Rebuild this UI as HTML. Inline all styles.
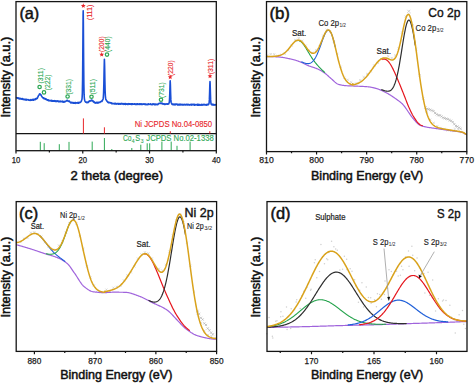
<!DOCTYPE html>
<html><head><meta charset="utf-8"><style>
html,body{margin:0;padding:0;background:#fff;width:475px;height:384px;overflow:hidden}
svg{display:block;font-family:"Liberation Sans", sans-serif}
</style></head><body>
<svg width="475" height="384" viewBox="0 0 475 384" font-family='"Liberation Sans", sans-serif'>
<rect width="475" height="384" fill="#fff"/>
<path d="M16.6,97.63 L16.85,97.96 L17.1,97.86 L17.35,98.12 L17.6,98.19 L17.85,97.74 L18.1,97.75 L18.35,98.54 L18.6,98.07 L18.85,98.1 L19.1,98.84 L19.35,98.42 L19.6,98.8 L19.85,98.52 L20.1,98.72 L20.35,98.33 L20.6,98.81 L20.85,99.07 L21.1,98.81 L21.35,99.05 L21.6,99.04 L21.85,98.53 L22.1,99.2 L22.35,99.1 L22.6,98.88 L22.85,98.68 L23.1,99.48 L23.35,99.16 L23.6,99.43 L23.85,99.61 L24.1,99.5 L24.35,99.73 L24.6,99.29 L24.85,99.69 L25.1,99.41 L25.35,99.88 L25.6,99.87 L25.85,99.2 L26.1,99.26 L26.35,99.37 L26.6,100.07 L26.85,99.62 L27.1,99.82 L27.35,99.55 L27.6,99.76 L27.85,99.68 L28.1,99.67 L28.35,99.9 L28.6,99.92 L28.85,100.22 L29.1,100.04 L29.35,100.27 L29.6,100.22 L29.85,100.35 L30.1,100.07 L30.35,99.62 L30.6,100.25 L30.85,100.34 L31.1,100.28 L31.35,99.98 L31.6,100.1 L31.85,99.64 L32.1,100.18 L32.35,99.93 L32.6,99.65 L32.85,99.42 L33.1,100.11 L33.35,100.2 L33.6,99.35 L33.85,99.94 L34.1,99.54 L34.35,99.25 L34.6,99.32 L34.85,99.67 L35.1,99.68 L35.35,98.84 L35.6,99.24 L35.85,98.6 L36.1,99.07 L36.35,98.55 L36.6,98.86 L36.85,98.74 L37.1,98.06 L37.35,98.23 L37.6,97.29 L37.85,96.72 L38.1,96.8 L38.35,95.86 L38.6,95.55 L38.85,95.28 L39.1,95.02 L39.35,94.22 L39.6,93.82 L39.85,94.39 L40.1,93.87 L40.35,94.57 L40.6,94.76 L40.85,94.64 L41.1,95.12 L41.35,95.6 L41.6,96.13 L41.85,96.48 L42.1,96.81 L42.35,97.18 L42.6,97.74 L42.85,97.59 L43.1,97.73 L43.35,98.18 L43.6,97.91 L43.85,98.11 L44.1,98.86 L44.35,98.58 L44.6,98.73 L44.85,98.37 L45.1,98.86 L45.35,99.14 L45.6,98.76 L45.85,99.42 L46.1,99.56 L46.35,99.17 L46.6,99.8 L46.85,99.77 L47.1,100.07 L47.35,99.87 L47.6,100.28 L47.85,100.4 L48.1,99.83 L48.35,99.93 L48.6,100.55 L48.85,100.86 L49.1,100.27 L49.35,100.5 L49.6,100.66 L49.85,100.45 L50.1,100.52 L50.35,100.51 L50.6,100.59 L50.85,100.82 L51.1,100.58 L51.35,100.67 L51.6,101.05 L51.85,100.4 L52.1,100.91 L52.35,101.08 L52.6,100.72 L52.85,100.66 L53.1,101.2 L53.35,100.71 L53.6,100.68 L53.85,100.93 L54.1,101.18 L54.35,100.66 L54.6,100.88 L54.85,100.91 L55.1,101.38 L55.35,101.04 L55.6,101.43 L55.85,100.83 L56.1,101 L56.35,101.3 L56.6,101.53 L56.85,101.16 L57.1,100.97 L57.35,100.9 L57.6,101.28 L57.85,101 L58.1,101.57 L58.35,101.62 L58.6,101.04 L58.85,101.15 L59.1,101.64 L59.35,101.51 L59.6,101.68 L59.85,101.28 L60.1,101.11 L60.35,101.27 L60.6,101.74 L60.85,101.29 L61.1,101.37 L61.35,101.46 L61.6,101.48 L61.85,101.49 L62.1,101.97 L62.35,101.3 L62.6,101.18 L62.85,102.04 L63.1,102 L63.35,102.11 L63.6,101.63 L63.85,102.1 L64.1,102.08 L64.35,101.44 L64.6,101.9 L64.85,101.95 L65.1,101.74 L65.35,101.54 L65.6,101.24 L65.85,101.18 L66.1,100.95 L66.35,100.67 L66.6,101 L66.85,100.6 L67.1,100.97 L67.35,100.21 L67.6,100.95 L67.85,100.78 L68.1,101.06 L68.35,101.15 L68.6,101.3 L68.85,101.19 L69.1,100.87 L69.35,101.73 L69.6,101.41 L69.85,101.71 L70.1,102.2 L70.35,102.21 L70.6,102.23 L70.85,102.81 L71.1,102.6 L71.35,102.42 L71.6,102.4 L71.85,103 L72.1,102.7 L72.35,103.01 L72.6,102.66 L72.85,102.55 L73.1,102.88 L73.35,103.16 L73.6,102.61 L73.85,103.19 L74.1,103.32 L74.35,103.24 L74.6,103.27 L74.85,102.55 L75.1,103.11 L75.35,103.33 L75.6,102.6 L75.85,102.8 L76.1,102.79 L76.35,103.02 L76.6,102.91 L76.85,102.95 L77.1,103.21 L77.35,102.5 L77.6,102.53 L77.85,102.58 L78.1,102.56 L78.35,102.48 L78.6,103.27 L78.85,103.12 L79.1,102.39 L79.35,102.71 L79.6,102.48 L79.85,102.41 L80.1,102.34 L80.35,102.49 L80.6,102.27 L80.85,101.86 L81.1,101.42 L81.35,101.14 L81.6,100.35 L81.85,99.79 L82.1,98.12 L82.35,93.05 L82.6,79.16 L82.85,50.01 L83.1,15.36 L83.2,10.68 L83.35,21.22 L83.6,57.29 L83.85,83.64 L84.1,94.66 L84.35,98.34 L84.6,99.84 L84.85,100.81 L85.1,101.54 L85.35,101.65 L85.6,102.15 L85.85,102.11 L86.1,102.04 L86.35,102.38 L86.6,102.57 L86.85,102.02 L87.1,102.33 L87.35,102.29 L87.6,102.63 L87.85,102.59 L88.1,101.97 L88.35,102.3 L88.6,102.05 L88.85,101.41 L89.1,101.41 L89.35,100.92 L89.6,101.36 L89.85,101.05 L90.1,101.1 L90.35,100.88 L90.6,100.66 L90.85,100.65 L91.1,100.47 L91.35,100.06 L91.6,100.54 L91.85,100.1 L92.1,100.34 L92.35,101.05 L92.6,100.57 L92.85,100.79 L93.1,100.99 L93.35,101.89 L93.6,101.44 L93.85,101.48 L94.1,102.39 L94.35,101.89 L94.6,102.67 L94.85,102.63 L95.1,102.87 L95.35,103.05 L95.6,102.77 L95.85,103.01 L96.1,102.35 L96.35,103.03 L96.6,102.81 L96.85,102.99 L97.1,102.43 L97.35,102.99 L97.6,103.13 L97.85,102.32 L98.1,102.52 L98.35,102.7 L98.6,102.89 L98.85,102.31 L99.1,102.2 L99.35,102.2 L99.6,102.45 L99.85,102.49 L100.1,102.08 L100.35,101.95 L100.6,101.86 L100.85,101.68 L101.1,101.59 L101.35,101.12 L101.6,101.29 L101.85,101.49 L102.1,100.71 L102.35,100.68 L102.6,99.75 L102.85,99.68 L103.1,98.88 L103.35,97.05 L103.6,92.75 L103.85,84.06 L104.1,70.84 L104.35,60.34 L104.4,59.27 L104.6,64.91 L104.85,79.38 L105.1,90.33 L105.35,95.71 L105.6,98.13 L105.85,99.5 L106.1,99.68 L106.35,100.22 L106.6,100.53 L106.85,101.18 L107.1,101.2 L107.35,101.35 L107.6,101.97 L107.85,102.38 L108.1,101.94 L108.35,102.45 L108.6,102.31 L108.85,102.82 L109.1,102.67 L109.35,102.48 L109.6,102.52 L109.85,102.42 L110.1,102.9 L110.35,102.88 L110.6,102.74 L110.85,102.97 L111.1,102.98 L111.35,103.44 L111.6,102.91 L111.85,103.71 L112.1,103.29 L112.35,103.43 L112.6,103.35 L112.85,103.71 L113.1,103.72 L113.35,103.51 L113.6,103.47 L113.85,103.71 L114.1,103.85 L114.35,103.46 L114.6,103.78 L114.85,104.01 L115.1,103.58 L115.35,103.39 L115.6,103.41 L115.85,103.86 L116.1,103.84 L116.35,104.11 L116.6,104.03 L116.85,103.49 L117.1,103.45 L117.35,103.53 L117.6,103.48 L117.85,103.95 L118.1,104.1 L118.35,104.15 L118.6,103.58 L118.85,104.14 L119.1,103.65 L119.35,103.76 L119.6,104.04 L119.85,103.47 L120.1,103.49 L120.35,104.16 L120.6,103.68 L120.85,103.75 L121.1,103.96 L121.35,104.05 L121.6,103.45 L121.85,103.76 L122.1,103.85 L122.35,103.9 L122.6,103.66 L122.85,104.01 L123.1,104.34 L123.35,103.84 L123.6,103.99 L123.85,103.61 L124.1,103.75 L124.35,104.11 L124.6,103.62 L124.85,104.32 L125.1,104.35 L125.35,103.62 L125.6,104.39 L125.85,103.88 L126.1,104.24 L126.35,104.23 L126.6,103.82 L126.85,104.17 L127.1,104.15 L127.35,104.3 L127.6,103.81 L127.85,104.26 L128.1,104.45 L128.35,104.19 L128.6,104.07 L128.85,103.7 L129.1,104.04 L129.35,103.92 L129.6,104.25 L129.85,104.22 L130.1,104.12 L130.35,103.78 L130.6,104.2 L130.85,104.19 L131.1,103.79 L131.35,104.43 L131.6,104.23 L131.85,103.75 L132.1,104.48 L132.35,103.77 L132.6,103.95 L132.85,104.3 L133.1,104.19 L133.35,104.16 L133.6,104.24 L133.85,104.08 L134.1,103.95 L134.35,103.83 L134.6,103.74 L134.85,104.32 L135.1,104.36 L135.35,104.17 L135.6,104.35 L135.85,104.01 L136.1,103.93 L136.35,104.04 L136.6,104.48 L136.85,103.74 L137.1,104.16 L137.35,103.93 L137.6,104.4 L137.85,104.03 L138.1,104.01 L138.35,104.08 L138.6,104.21 L138.85,104.42 L139.1,104.04 L139.35,104.49 L139.6,103.83 L139.85,103.98 L140.1,103.83 L140.35,103.84 L140.6,104.44 L140.85,104.4 L141.1,103.91 L141.35,103.92 L141.6,104.13 L141.85,104.42 L142.1,104.49 L142.35,104.43 L142.6,104.29 L142.85,103.9 L143.1,104.12 L143.35,103.94 L143.6,104.25 L143.85,104.28 L144.1,103.96 L144.35,104 L144.6,104.48 L144.85,103.81 L145.1,104.51 L145.35,104.59 L145.6,104.64 L145.85,104.14 L146.1,104.29 L146.35,104.32 L146.6,104.37 L146.85,104.68 L147.1,104.42 L147.35,104.08 L147.6,104.58 L147.85,104.25 L148.1,104.35 L148.35,104.47 L148.6,103.82 L148.85,104.51 L149.1,104.42 L149.35,104.27 L149.6,104.3 L149.85,104.24 L150.1,104.01 L150.35,104.31 L150.6,103.87 L150.85,104.29 L151.1,104.42 L151.35,104.24 L151.6,104.35 L151.85,104.71 L152.1,104.65 L152.35,103.97 L152.6,104.57 L152.85,104.42 L153.1,103.9 L153.35,104.18 L153.6,104.07 L153.85,103.94 L154.1,104.35 L154.35,104.71 L154.6,104.16 L154.85,104.66 L155.1,104.5 L155.35,104 L155.6,104.65 L155.85,104.42 L156.1,104.71 L156.35,104.51 L156.6,104.53 L156.85,104.16 L157.1,104.56 L157.35,104.65 L157.6,104.55 L157.85,104.12 L158.1,104.35 L158.35,104.04 L158.6,103.62 L158.85,103.46 L159.1,103.39 L159.35,103.39 L159.6,103.24 L159.85,103.44 L160.1,103.52 L160.35,103.3 L160.6,103.14 L160.85,103.31 L161.1,103 L161.35,103.17 L161.6,103.49 L161.85,103.25 L162.1,103.15 L162.35,103.9 L162.6,103.85 L162.85,103.65 L163.1,103.76 L163.35,104 L163.6,104.15 L163.85,103.89 L164.1,103.75 L164.35,103.99 L164.6,104.54 L164.85,103.99 L165.1,104.29 L165.35,104.07 L165.6,104.08 L165.85,104.05 L166.1,104.26 L166.35,104.04 L166.6,103.9 L166.85,103.96 L167.1,103.99 L167.35,104.25 L167.6,103.83 L167.85,103.74 L168.1,104.06 L168.35,103.92 L168.6,104.04 L168.85,103.21 L169.1,103.08 L169.35,101.87 L169.6,98.12 L169.85,91.61 L170.1,82.17 L170.2,80.83 L170.35,83.79 L170.6,92.68 L170.85,99.63 L171.1,102.2 L171.35,102.97 L171.6,103.3 L171.85,104.13 L172.1,103.86 L172.35,104.42 L172.6,104.2 L172.85,104.68 L173.1,104.15 L173.35,104.14 L173.6,104.18 L173.85,104.69 L174.1,104.54 L174.35,104.3 L174.6,104.09 L174.85,104.63 L175.1,104.9 L175.35,104.57 L175.6,104.05 L175.85,104.08 L176.1,104.14 L176.35,104.22 L176.6,104.1 L176.85,104.13 L177.1,104.67 L177.35,104.9 L177.6,104.27 L177.85,104.97 L178.1,104.53 L178.35,104.83 L178.6,104.94 L178.85,104.96 L179.1,104.15 L179.35,104.4 L179.6,104.67 L179.85,104.98 L180.1,104.21 L180.35,104.4 L180.6,104.9 L180.85,104.25 L181.1,104.5 L181.35,104.45 L181.6,104.76 L181.85,104.99 L182.1,104.32 L182.35,104.83 L182.6,104.83 L182.85,104.92 L183.1,104.67 L183.35,105.01 L183.6,104.5 L183.85,104.55 L184.1,104.39 L184.35,104.89 L184.6,104.62 L184.85,104.43 L185.1,104.35 L185.35,104.85 L185.6,104.75 L185.85,104.84 L186.1,104.56 L186.35,104.65 L186.6,104.35 L186.85,104.86 L187.1,104.24 L187.35,104.64 L187.6,104.91 L187.85,104.84 L188.1,104.32 L188.35,104.45 L188.6,104.99 L188.85,104.82 L189.1,105.03 L189.35,105.03 L189.6,104.65 L189.85,105.06 L190.1,104.91 L190.35,104.55 L190.6,104.59 L190.85,104.32 L191.1,104.62 L191.35,105.13 L191.6,104.36 L191.85,104.78 L192.1,104.37 L192.35,104.35 L192.6,104.86 L192.85,104.5 L193.1,104.33 L193.35,104.42 L193.6,104.87 L193.85,104.82 L194.1,104.3 L194.35,104.5 L194.6,105.17 L194.85,104.5 L195.1,104.81 L195.35,104.68 L195.6,105.01 L195.85,104.86 L196.1,105.02 L196.35,104.8 L196.6,104.49 L196.85,104.48 L197.1,104.4 L197.35,105.07 L197.6,104.43 L197.85,104.35 L198.1,105.2 L198.35,104.51 L198.6,105.14 L198.85,104.42 L199.1,104.76 L199.35,104.54 L199.6,105.09 L199.85,104.9 L200.1,104.93 L200.35,105.04 L200.6,105.14 L200.85,104.67 L201.1,104.9 L201.35,104.76 L201.6,104.46 L201.85,105.11 L202.1,104.9 L202.35,105.1 L202.6,104.55 L202.85,104.85 L203.1,104.78 L203.35,105.02 L203.6,104.43 L203.85,104.68 L204.1,104.8 L204.35,104.43 L204.6,104.86 L204.85,105.02 L205.1,104.73 L205.35,104.93 L205.6,104.89 L205.85,104.53 L206.1,104.64 L206.35,105.21 L206.6,104.6 L206.85,104.66 L207.1,104.32 L207.35,104.41 L207.6,104.31 L207.85,104.93 L208.1,104.65 L208.35,104.65 L208.6,104.53 L208.85,103.8 L209.1,103.1 L209.35,99.88 L209.6,93.12 L209.85,84.26 L210,81.56 L210.1,82.86 L210.35,91.37 L210.6,99.13 L210.85,102.29 L211.1,104.04 L211.35,104.44 L211.6,104.12 L211.85,104.86 L212.1,104.29 L212.35,104.29 L212.6,104.91 L212.85,104.57 L213.1,104.8 L213.35,104.94 L213.6,104.42 L213.85,105.08 L214.1,104.67 L214.35,104.83 L214.6,104.76 L214.85,105.13 L215.1,105.14 L215.35,104.74 L215.6,104.58 L215.85,104.76" fill="none" stroke="#1a4fd6" stroke-width="1.6" stroke-linejoin="round" stroke-linecap="round" />
<line x1="16" y1="133.6" x2="216.3" y2="133.6" stroke="#141414" stroke-width="1.3"/>
<line x1="83.4" y1="118.4" x2="83.4" y2="133.6" stroke="#e8262a" stroke-width="1"/>
<line x1="104.4" y1="127.3" x2="104.4" y2="133.6" stroke="#e8262a" stroke-width="1"/>
<line x1="170.3" y1="131.2" x2="170.3" y2="133.6" stroke="#e8262a" stroke-width="1"/>
<line x1="209.8" y1="131.2" x2="209.8" y2="133.6" stroke="#e8262a" stroke-width="1"/>
<line x1="40.3" y1="141.8" x2="40.3" y2="150.7" stroke="#2ea855" stroke-width="1"/>
<line x1="44.2" y1="143.2" x2="44.2" y2="150.7" stroke="#2ea855" stroke-width="1"/>
<line x1="59.3" y1="144.2" x2="59.3" y2="150.7" stroke="#2ea855" stroke-width="1"/>
<line x1="69" y1="141.9" x2="69" y2="150.7" stroke="#2ea855" stroke-width="1"/>
<line x1="92.2" y1="141.6" x2="92.2" y2="150.7" stroke="#2ea855" stroke-width="1"/>
<line x1="104.4" y1="138" x2="104.4" y2="150.7" stroke="#2ea855" stroke-width="1"/>
<line x1="111.8" y1="149" x2="111.8" y2="150.7" stroke="#2ea855" stroke-width="1"/>
<line x1="131.8" y1="148" x2="131.8" y2="150.7" stroke="#2ea855" stroke-width="1"/>
<line x1="140.8" y1="144.7" x2="140.8" y2="150.7" stroke="#2ea855" stroke-width="1"/>
<line x1="147.2" y1="143.3" x2="147.2" y2="150.7" stroke="#2ea855" stroke-width="1"/>
<line x1="149.7" y1="143.3" x2="149.7" y2="150.7" stroke="#2ea855" stroke-width="1"/>
<line x1="161.9" y1="141.6" x2="161.9" y2="150.7" stroke="#2ea855" stroke-width="1"/>
<line x1="171.2" y1="141.6" x2="171.2" y2="150.7" stroke="#2ea855" stroke-width="1"/>
<line x1="177" y1="145.8" x2="177" y2="150.7" stroke="#2ea855" stroke-width="1"/>
<line x1="190.1" y1="141.6" x2="190.1" y2="150.7" stroke="#2ea855" stroke-width="1"/>
<text x="134.7" y="127.1" font-size="8.6" fill="#e8262a" text-anchor="start" font-weight="normal" stroke="#e8262a" stroke-width="0.12" textLength="77.5" lengthAdjust="spacingAndGlyphs">Ni JCPDS No.04-0850</text>
<text x="123" y="141" font-size="8.6" fill="#2ea855" text-anchor="start" font-weight="normal" stroke="#2ea855" stroke-width="0.12" textLength="8.6" lengthAdjust="spacingAndGlyphs">Co</text>
<text x="131.7" y="142.9" font-size="5" fill="#2ea855" text-anchor="start" font-weight="normal" stroke="#2ea855" stroke-width="0.1">4</text>
<text x="135.2" y="141" font-size="8.6" fill="#2ea855" text-anchor="start" font-weight="normal" stroke="#2ea855" stroke-width="0.12" textLength="4.9" lengthAdjust="spacingAndGlyphs">S</text>
<text x="140.7" y="142.9" font-size="5" fill="#2ea855" text-anchor="start" font-weight="normal" stroke="#2ea855" stroke-width="0.1">3</text>
<text x="146.3" y="141" font-size="8.6" fill="#2ea855" text-anchor="start" font-weight="normal" stroke="#2ea855" stroke-width="0.12" textLength="67.4" lengthAdjust="spacingAndGlyphs">JCPDS No.02-1338</text>
<rect x="16" y="1.6" width="200.3" height="149.1" fill="none" stroke="#141414" stroke-width="1.3"/>
<path d="M16,150.7 V153.5 M82.77,150.7 V153.5 M149.53,150.7 V153.5 M216.3,150.7 V153.5 M49.38,150.7 V152.4 M116.15,150.7 V152.4 M182.92,150.7 V152.4" stroke="#141414" stroke-width="1.2" fill="none"/>
<text x="16" y="162.6" font-size="8.6" fill="#1a1a1a" text-anchor="middle" font-weight="normal" stroke="#1a1a1a" stroke-width="0.25" textLength="8.6" lengthAdjust="spacingAndGlyphs">10</text>
<text x="82.77" y="162.6" font-size="8.6" fill="#1a1a1a" text-anchor="middle" font-weight="normal" stroke="#1a1a1a" stroke-width="0.25" textLength="8.6" lengthAdjust="spacingAndGlyphs">20</text>
<text x="149.53" y="162.6" font-size="8.6" fill="#1a1a1a" text-anchor="middle" font-weight="normal" stroke="#1a1a1a" stroke-width="0.25" textLength="8.6" lengthAdjust="spacingAndGlyphs">30</text>
<text x="216.3" y="162.6" font-size="8.6" fill="#1a1a1a" text-anchor="middle" font-weight="normal" stroke="#1a1a1a" stroke-width="0.25" textLength="8.6" lengthAdjust="spacingAndGlyphs">40</text>
<text x="19.4" y="18.9" font-size="16.5" fill="#111" text-anchor="start" font-weight="normal" stroke="#111" stroke-width="0.5" textLength="19.9" lengthAdjust="spacingAndGlyphs">(a)</text>
<text x="70.6" y="179.8" font-size="12.7" fill="#111" text-anchor="start" font-weight="normal" stroke="#111" stroke-width="0.5" textLength="92.5" lengthAdjust="spacingAndGlyphs">2 theta (degree)</text>
<text font-size="12.6" fill="#111" text-anchor="start" font-weight="normal" stroke="#111" stroke-width="0.5" textLength="80.8" lengthAdjust="spacingAndGlyphs" transform="translate(10.4,117.6) rotate(-90)">Intensity (a.u.)</text>
<text font-size="7" fill="#2ea855" text-anchor="start" font-weight="normal" stroke="#2ea855" stroke-width="0.12" textLength="15.6" lengthAdjust="spacingAndGlyphs" transform="translate(43,83.6) rotate(-90)">(311)</text>
<text font-size="7" fill="#2ea855" text-anchor="start" font-weight="normal" stroke="#2ea855" stroke-width="0.12" textLength="15.6" lengthAdjust="spacingAndGlyphs" transform="translate(50,90.2) rotate(-90)">(222)</text>
<text font-size="7" fill="#2ea855" text-anchor="start" font-weight="normal" stroke="#2ea855" stroke-width="0.12" textLength="15.6" lengthAdjust="spacingAndGlyphs" transform="translate(70.7,94.6) rotate(-90)">(331)</text>
<text font-size="7" fill="#e8262a" text-anchor="start" font-weight="normal" stroke="#e8262a" stroke-width="0.12" textLength="15.6" lengthAdjust="spacingAndGlyphs" transform="translate(92.2,20.2) rotate(-90)">(111)</text>
<text font-size="7" fill="#e8262a" text-anchor="start" font-weight="normal" stroke="#e8262a" stroke-width="0.12" textLength="15.6" lengthAdjust="spacingAndGlyphs" transform="translate(103.9,51.9) rotate(-90)">(200)</text>
<text font-size="7" fill="#2ea855" text-anchor="start" font-weight="normal" stroke="#2ea855" stroke-width="0.12" textLength="15.6" lengthAdjust="spacingAndGlyphs" transform="translate(109.9,51.9) rotate(-90)">(440)</text>
<text font-size="7" fill="#2ea855" text-anchor="start" font-weight="normal" stroke="#2ea855" stroke-width="0.12" textLength="15.6" lengthAdjust="spacingAndGlyphs" transform="translate(95.3,94.6) rotate(-90)">(511)</text>
<text font-size="7" fill="#2ea855" text-anchor="start" font-weight="normal" stroke="#2ea855" stroke-width="0.12" textLength="15.6" lengthAdjust="spacingAndGlyphs" transform="translate(163.9,97.9) rotate(-90)">(731)</text>
<text font-size="7" fill="#e8262a" text-anchor="start" font-weight="normal" stroke="#e8262a" stroke-width="0.12" textLength="15.6" lengthAdjust="spacingAndGlyphs" transform="translate(173.2,75.9) rotate(-90)">(220)</text>
<text font-size="7" fill="#e8262a" text-anchor="start" font-weight="normal" stroke="#e8262a" stroke-width="0.12" textLength="15.6" lengthAdjust="spacingAndGlyphs" transform="translate(212.5,74.3) rotate(-90)">(311)</text>
<circle cx="39.6" cy="87" r="1.7" fill="none" stroke="#2ea855" stroke-width="1.25"/>
<circle cx="44" cy="92.4" r="1.7" fill="none" stroke="#2ea855" stroke-width="1.25"/>
<circle cx="67.6" cy="96.5" r="1.7" fill="none" stroke="#2ea855" stroke-width="1.25"/>
<circle cx="91.5" cy="96.7" r="1.7" fill="none" stroke="#2ea855" stroke-width="1.25"/>
<circle cx="107" cy="54.6" r="1.7" fill="none" stroke="#2ea855" stroke-width="1.25"/>
<circle cx="161" cy="99.7" r="1.7" fill="none" stroke="#2ea855" stroke-width="1.25"/>
<polygon points="83.3,3.3 83.96,4.89 85.68,5.03 84.37,6.15 84.77,7.82 83.3,6.92 81.83,7.82 82.23,6.15 80.92,5.03 82.64,4.89" fill="#e8262a"/>
<polygon points="101.7,52.1 102.36,53.69 104.08,53.83 102.77,54.95 103.17,56.62 101.7,55.73 100.23,56.62 100.63,54.95 99.32,53.83 101.04,53.69" fill="#e8262a"/>
<polygon points="170.2,74.7 170.86,76.29 172.58,76.43 171.27,77.55 171.67,79.22 170.2,78.33 168.73,79.22 169.13,77.55 167.82,76.43 169.54,76.29" fill="#e8262a"/>
<polygon points="210,73.7 210.66,75.29 212.38,75.43 211.07,76.55 211.47,78.22 210,77.33 208.53,78.22 208.93,76.55 207.62,75.43 209.34,75.29" fill="#e8262a"/>
<path d="M266.1,54.26 L268.3,56.46 M266.1,56.46 L268.3,54.26 M269.6,53.03 L271.8,55.23 M269.6,55.23 L271.8,53.03 M273.1,53.18 L275.3,55.38 M273.1,55.38 L275.3,53.18 M276.6,54.94 L278.8,57.14 M276.6,57.14 L278.8,54.94 M280.1,53.72 L282.3,55.92 M280.1,55.92 L282.3,53.72 M283.6,52.65 L285.8,54.85 M283.6,54.85 L285.8,52.65 M287.1,49.21 L289.3,51.41 M287.1,51.41 L289.3,49.21 M290.6,44.48 L292.8,46.68 M290.6,46.68 L292.8,44.48 M294.1,38.94 L296.3,41.14 M294.1,41.14 L296.3,38.94 M297.6,37.02 L299.8,39.22 M297.6,39.22 L299.8,37.02 M301.1,39.65 L303.3,41.85 M301.1,41.85 L303.3,39.65 M304.6,44.57 L306.8,46.77 M304.6,46.77 L306.8,44.57 M308.1,49.25 L310.3,51.45 M308.1,51.45 L310.3,49.25 M311.6,51.54 L313.8,53.74 M311.6,53.74 L313.8,51.54 M315.1,49.22 L317.3,51.42 M315.1,51.42 L317.3,49.22 M318.6,45.02 L320.8,47.22 M318.6,47.22 L320.8,45.02 M322.1,34.59 L324.3,36.79 M322.1,36.79 L324.3,34.59 M325.6,28.72 L327.8,30.92 M325.6,30.92 L327.8,28.72 M329.1,30.78 L331.3,32.98 M329.1,32.98 L331.3,30.78 M332.6,40.02 L334.8,42.22 M332.6,42.22 L334.8,40.02 M336.1,52.82 L338.3,55.02 M336.1,55.02 L338.3,52.82 M339.6,65.67 L341.8,67.87 M339.6,67.87 L341.8,65.67 M343.1,76.7 L345.3,78.9 M343.1,78.9 L345.3,76.7 M346.6,78.68 L348.8,80.88 M346.6,80.88 L348.8,78.68 M350.1,81.25 L352.3,83.45 M350.1,83.45 L352.3,81.25 M352.1,83 L354.3,85.2 M352.1,85.2 L354.3,83 M355.6,82.09 L357.8,84.29 M355.6,84.29 L357.8,82.09 M359.1,79.07 L361.3,81.27 M359.1,81.27 L361.3,79.07 M362.6,76 L364.8,78.2 M362.6,78.2 L364.8,76 M366.1,72.83 L368.3,75.03 M366.1,75.03 L368.3,72.83 M369.6,70.29 L371.8,72.49 M369.6,72.49 L371.8,70.29 M373.1,64.35 L375.3,66.55 M373.1,66.55 L375.3,64.35 M376.6,61.73 L378.8,63.93 M376.6,63.93 L378.8,61.73 M380.1,58.04 L382.3,60.24 M380.1,60.24 L382.3,58.04 M383.6,57.73 L385.8,59.93 M383.6,59.93 L385.8,57.73 M387.1,55.19 L389.3,57.39 M387.1,57.39 L389.3,55.19 M390.6,56.92 L392.8,59.12 M390.6,59.12 L392.8,56.92 M394.1,54.36 L396.3,56.56 M394.1,56.56 L396.3,54.36 M397.6,47.13 L399.8,49.33 M397.6,49.33 L399.8,47.13 M401.1,31.32 L403.3,33.52 M401.1,33.52 L403.3,31.32 M404.6,15.26 L406.8,17.46 M404.6,17.46 L406.8,15.26 M408.1,13.21 L410.3,15.41 M408.1,15.41 L410.3,13.21 M411.6,24.03 L413.8,26.23 M411.6,26.23 L413.8,24.03 M415.1,48.08 L417.3,50.28 M415.1,50.28 L417.3,48.08 M418.6,74.17 L420.8,76.37 M418.6,76.37 L420.8,74.17 M422.1,97.62 L424.3,99.82 M422.1,99.82 L424.3,97.62 M425.6,110.84 L427.8,113.04 M425.6,113.04 L427.8,110.84 M429.1,118.54 L431.3,120.74 M429.1,120.74 L431.3,118.54 M432.6,121.83 L434.8,124.03 M432.6,124.03 L434.8,121.83 M436.1,125.16 L438.3,127.36 M436.1,127.36 L438.3,125.16 M439.6,126.96 L441.8,129.16 M439.6,129.16 L441.8,126.96 M443.1,127.84 L445.3,130.04 M443.1,130.04 L445.3,127.84 M446.6,129.28 L448.8,131.48 M446.6,131.48 L448.8,129.28 M450.1,129.47 L452.3,131.67 M450.1,131.67 L452.3,129.47 M453.6,128 L455.8,130.2 M453.6,130.2 L455.8,128 M457.1,128.1 L459.3,130.3 M457.1,130.3 L459.3,128.1 M460.6,131.05 L462.8,133.25 M460.6,133.25 L462.8,131.05 M464.1,132.78 L466.3,134.98 M464.1,134.98 L466.3,132.78" stroke="#cfcfcf" stroke-width="0.7" fill="none"/>
<path d="M407.3,9.8 L410.3,12.8 M407.3,12.8 L410.3,9.8" stroke="#c8c8c8" stroke-width="0.8" fill="none"/>
<path d="M424.4,106.31 L426.6,108.51 M424.4,108.51 L426.6,106.31 M426,107.74 L428.2,109.94 M426,109.94 L428.2,107.74 M427.6,108.2 L429.8,110.4 M427.6,110.4 L429.8,108.2 M429.2,108.67 L431.4,110.87 M429.2,110.87 L431.4,108.67 M430.8,109.4 L433,111.6 M430.8,111.6 L433,109.4 M432.4,110.06 L434.6,112.26 M432.4,112.26 L434.6,110.06 M434,111.97 L436.2,114.17 M434,114.17 L436.2,111.97 M435.6,113.28 L437.8,115.48 M435.6,115.48 L437.8,113.28 M437.2,114.15 L439.4,116.35 M437.2,116.35 L439.4,114.15 M438.8,114.24 L441,116.44 M438.8,116.44 L441,114.24 M440.4,115.35 L442.6,117.55 M440.4,117.55 L442.6,115.35 M442,116.56 L444.2,118.76 M442,118.76 L444.2,116.56 M443.6,117.17 L445.8,119.37 M443.6,119.37 L445.8,117.17 M445.2,117.63 L447.4,119.83 M445.2,119.83 L447.4,117.63 M446.8,118.12 L449,120.32 M446.8,120.32 L449,118.12 M448.4,119.08 L450.6,121.28 M448.4,121.28 L450.6,119.08 M450,119.66 L452.2,121.86 M450,121.86 L452.2,119.66 M451.6,120.98 L453.8,123.18 M451.6,123.18 L453.8,120.98 M453.2,123.07 L455.4,125.27 M453.2,125.27 L455.4,123.07 M454.8,124.86 L457,127.06 M454.8,127.06 L457,124.86 M456.4,125.44 L458.6,127.64 M456.4,127.64 L458.6,125.44 M458,126.52 L460.2,128.72 M458,128.72 L460.2,126.52 M459.6,127.72 L461.8,129.92 M459.6,129.92 L461.8,127.72" stroke="#b4b4b4" stroke-width="0.75" fill="none"/>
<path d="M267.2,56.6 L267.7,56.6 L268.2,56.61 L268.7,56.61 L269.2,56.62 L269.7,56.63 L270.2,56.63 L270.7,56.64 L271.2,56.65 L271.7,56.66 L272.2,56.68 L272.7,56.69 L273.2,56.7 L273.7,56.72 L274.2,56.73 L274.7,56.74 L275.2,56.76 L275.7,56.78 L276.2,56.79 L276.7,56.81 L277.2,56.83 L277.7,56.86 L278.2,56.9 L278.7,56.94 L279.2,56.99 L279.7,57.04 L280.2,57.09 L280.7,57.15 L281.2,57.22 L281.7,57.29 L282.2,57.36 L282.7,57.44 L283.2,57.52 L283.7,57.6 L284.2,57.69 L284.7,57.78 L285.2,57.87 L285.7,57.97 L286.2,58.06 L286.7,58.16 L287.2,58.27 L287.7,58.37 L288.2,58.47 L288.7,58.58 L289.2,58.69 L289.7,58.8 L290.2,58.9 L290.7,59.01 L291.2,59.12 L291.7,59.23 L292.2,59.34 L292.7,59.46 L293.2,59.58 L293.7,59.71 L294.2,59.85 L294.7,59.99 L295.2,60.14 L295.7,60.3 L296.2,60.46 L296.7,60.62 L297.2,60.79 L297.7,60.96 L298.2,61.14 L298.7,61.32 L299.2,61.5 L299.7,61.69 L300.2,61.88 L300.7,62.08 L301.2,62.3 L301.7,62.52 L302.2,62.76 L302.7,63.01 L303.2,63.26 L303.7,63.52 L304.2,63.77 L304.7,64.03 L305.2,64.29 L305.7,64.54 L306.2,64.78 L306.7,65.02 L307.2,65.24 L307.7,65.46 L308.2,65.66 L308.7,65.85 L309.2,66.04 L309.7,66.22 L310.2,66.39 L310.7,66.55 L311.2,66.72 L311.7,66.88 L312.2,67.04 L312.7,67.19 L313.2,67.35 L313.7,67.51 L314.2,67.67 L314.7,67.84 L315.2,68.01 L315.7,68.19 L316.2,68.37 L316.7,68.57 L317.2,68.77 L317.7,68.98 L318.2,69.2 L318.7,69.44 L319.2,69.68 L319.7,69.94 L320.2,70.21 L320.7,70.5 L321.2,70.79 L321.7,71.09 L322.2,71.41 L322.7,71.73 L323.2,72.06 L323.7,72.4 L324.2,72.74 L324.7,73.1 L325.2,73.45 L325.7,73.82 L326.2,74.22 L326.7,74.65 L327.2,75.09 L327.7,75.55 L328.2,76.01 L328.7,76.47 L329.2,76.93 L329.7,77.36 L330.2,77.78 L330.7,78.21 L331.2,78.65 L331.7,79.1 L332.2,79.56 L332.7,80.02 L333.2,80.49 L333.7,80.95 L334.2,81.4 L334.7,81.84 L335.2,82.26 L335.7,82.66 L336.2,83.04 L336.7,83.39 L337.2,83.7 L337.7,83.98 L338.2,84.22 L338.7,84.41 L339.2,84.55 L339.7,84.68 L340.2,84.81 L340.7,84.92 L341.2,85.03 L341.7,85.13 L342.2,85.23 L342.7,85.31 L343.2,85.39 L343.7,85.46 L344.2,85.53 L344.7,85.58 L345.2,85.63 L345.7,85.68 L346.2,85.71 L346.7,85.75 L347.2,85.77 L347.7,85.8 L348.2,85.82 L348.7,85.84 L349.2,85.86 L349.7,85.88 L350.2,85.9 L350.7,85.92 L351.2,85.93 L351.7,85.95 L352.2,85.97 L352.7,86 L352.79,86 L352.8,86 L352.81,86 L353.2,86.02 L353.7,86.04 L354.2,86.06 L354.7,86.08 L355.2,86.11 L355.7,86.13 L356.2,86.15 L356.7,86.17 L357.2,86.19 L357.7,86.21 L358.2,86.23 L358.7,86.25 L359.2,86.27 L359.7,86.29 L360.2,86.31 L360.7,86.34 L361.2,86.36 L361.7,86.38 L362.2,86.41 L362.7,86.43 L363.2,86.46 L363.7,86.49 L364.2,86.52 L364.7,86.55 L365.2,86.58 L365.7,86.62 L366.2,86.65 L366.7,86.69 L367.2,86.73 L367.7,86.77 L368.2,86.82 L368.7,86.87 L369.2,86.93 L369.7,87 L370.2,87.08 L370.7,87.17 L371.2,87.26 L371.7,87.36 L372.2,87.46 L372.7,87.58 L373.2,87.69 L373.7,87.81 L374.2,87.93 L374.7,88.06 L375.2,88.19 L375.7,88.32 L376.2,88.45 L376.7,88.6 L377.2,88.75 L377.7,88.92 L378.2,89.09 L378.7,89.27 L379.2,89.47 L379.7,89.67 L380.2,89.87 L380.7,90.08 L381.2,90.3 L381.7,90.52 L382.2,90.75 L382.7,90.98 L383.2,91.22 L383.7,91.45 L384.2,91.69 L384.7,91.94 L385.2,92.19 L385.7,92.45 L386.2,92.72 L386.7,92.99 L387.2,93.27 L387.7,93.55 L388.2,93.84 L388.7,94.13 L389.2,94.43 L389.7,94.74 L390.2,95.05 L390.7,95.36 L391.2,95.68 L391.7,96 L392.2,96.33 L392.7,96.66 L393.2,97 L393.7,97.34 L394.2,97.68 L394.7,98.02 L395.2,98.37 L395.7,98.72 L396.2,99.07 L396.7,99.43 L397.2,99.79 L397.7,100.15 L398.2,100.51 L398.7,100.88 L399.2,101.25 L399.7,101.64 L400.2,102.04 L400.7,102.46 L401.2,102.89 L401.7,103.34 L402.2,103.81 L402.7,104.3 L403.2,104.82 L403.7,105.4 L404.2,106.01 L404.7,106.66 L405.2,107.34 L405.7,108.05 L406.2,108.77 L406.7,109.51 L407.2,110.25 L407.7,111 L408.2,111.74 L408.7,112.47 L409.2,113.19 L409.7,113.89 L410.2,114.6 L410.7,115.32 L411.2,116.05 L411.7,116.76 L412.2,117.44 L412.7,118.07 L413.2,118.64 L413.7,119.22 L414.2,119.8 L414.7,120.38 L415.2,120.95 L415.7,121.51 L416.2,122.06 L416.7,122.58 L417.2,123.09 L417.7,123.56 L418.2,124 L418.7,124.41 L419.2,124.77 L419.7,125.09 L420.2,125.35 L420.7,125.56 L421.2,125.73 L421.7,125.89 L422.2,126.05 L422.7,126.19 L423.2,126.33 L423.7,126.46 L424.2,126.58 L424.7,126.7 L425.2,126.82 L425.7,126.92 L426.2,127.03 L426.7,127.12 L427.2,127.22 L427.7,127.31 L428.2,127.39 L428.7,127.48 L429.2,127.56 L429.7,127.63 L430.2,127.71 L430.7,127.78 L431.2,127.85 L431.7,127.92 L432.2,127.99 L432.7,128.06 L433.2,128.13 L433.7,128.2 L434.2,128.27 L434.7,128.33 L435.2,128.4 L435.7,128.48 L436.2,128.55 L436.7,128.62 L437.2,128.7 L437.7,128.78 L438.2,128.86 L438.7,128.94 L439.2,129.01 L439.7,129.09 L440.2,129.16 L440.7,129.24 L441.2,129.31 L441.7,129.38 L442.2,129.45 L442.7,129.52 L443.2,129.58 L443.7,129.65 L444.2,129.72 L444.7,129.79 L445.2,129.85 L445.7,129.92 L446.2,129.99 L446.7,130.05 L447.2,130.12 L447.7,130.19 L448.2,130.26 L448.7,130.32 L449.2,130.39 L449.7,130.46 L450.2,130.54 L450.7,130.61 L451.2,130.68 L451.7,130.75 L452.2,130.83 L452.7,130.9 L453.2,130.97 L453.7,131.04 L454.2,131.1 L454.7,131.16 L455.2,131.23 L455.7,131.29 L456.2,131.35 L456.7,131.41 L457.2,131.48 L457.7,131.55 L458.2,131.62 L458.7,131.7 L459.2,131.78 L459.7,131.87 L460.2,131.96 L460.7,132.07 L461.2,132.18 L461.7,132.29 L462.2,132.42 L462.7,132.56 L463.2,132.74 L463.7,132.98 L464.2,133.25 L464.7,133.55 L465.2,133.88 L465.7,134.22 L466.2,134.57" fill="none" stroke="#a064dc" stroke-width="1.2" stroke-linejoin="round" stroke-linecap="round" />
<path d="M296.7,40.77 L297.2,40.62 L297.7,40.53 L298.2,40.51 L298.7,40.57 L299.2,40.7 L299.7,40.9 L300.2,41.16 L300.7,41.49 L301.2,41.89 L301.7,42.34 L302.2,42.86 L302.7,43.43 L303.2,44.05 L303.7,44.72 L304.2,45.43 L304.7,46.18 L305.2,46.95 L305.7,47.76 L306.2,48.57 L306.7,49.41 L307.2,50.25 L307.7,51.09 L308.2,51.93 L308.7,52.76 L309.2,53.59 L309.7,54.42 L310.2,55.23 L310.7,56.03 L311.2,56.81 L311.7,57.59 L312.2,58.34 L312.7,59.08 L313.2,59.8 L313.7,60.5 L314.2,61.18 L314.7,61.84 L315.2,62.48 L315.7,63.11 L316.2,63.72 L316.7,64.31 L317.2,64.89 L317.7,65.45 L318.2,66 L318.7,66.54 L319.2,67.07 L319.7,67.59 L320.2,68.11 L320.7,68.61 L321.2,69.11 L321.7,69.6 L322.2,70.08 L322.7,70.55 L323.2,71.02 L323.7,71.48 L324.2,71.94 L324.7,72.39" fill="none" stroke="#22a24a" stroke-width="1.1" stroke-linejoin="round" stroke-linecap="round" />
<path d="M301.7,61.94 L302.2,62.13 L302.7,62.33 L303.2,62.53 L303.7,62.72 L304.2,62.91 L304.7,63.08 L305.2,63.24 L305.7,63.38 L306.2,63.5 L306.7,63.59 L307.2,63.65 L307.7,63.67 L308.2,63.65 L308.7,63.6 L309.2,63.5 L309.7,63.35 L310.2,63.16 L310.7,62.92 L311.2,62.63 L311.7,62.28 L312.2,61.88 L312.7,61.41 L313.2,60.88 L313.7,60.28 L314.2,59.62 L314.7,58.89 L315.2,58.09 L315.7,57.22 L316.2,56.28 L316.7,55.27 L317.2,54.2 L317.7,53.06 L318.2,51.87 L318.7,50.62 L319.2,49.33 L319.7,48 L320.2,46.63 L320.7,45.24 L321.2,43.84 L321.7,42.43 L322.2,41.03 L322.7,39.65 L323.2,38.31 L323.7,37.01 L324.2,35.78 L324.7,34.62 L325.2,33.56 L325.7,32.61 L326.2,31.81 L326.7,31.16 L327.2,30.68 L327.7,30.37 L328.2,30.24 L328.7,30.27 L329.2,30.49 L329.7,30.87 L330.2,31.43 L330.7,32.21 L331.2,33.2 L331.7,34.39 L332.2,35.77 L332.7,37.32 L333.2,39.02 L333.7,40.85 L334.2,42.79 L334.7,44.82 L335.2,46.91" fill="none" stroke="#1f5fd8" stroke-width="1.1" stroke-linejoin="round" stroke-linecap="round" />
<path d="M382.2,59.25 L382.7,59.12 L383.2,59.04 L383.7,59.01 L384.2,59.03 L384.7,59.12 L385.2,59.26 L385.7,59.46 L386.2,59.72 L386.7,60.04 L387.2,60.43 L387.7,60.88 L388.2,61.38 L388.7,61.95 L389.2,62.57 L389.7,63.26 L390.2,63.99 L390.7,64.78 L391.2,65.61 L391.7,66.49 L392.2,67.42 L392.7,68.38 L393.2,69.38 L393.7,70.42 L394.2,71.49 L394.7,72.58 L395.2,73.7 L395.7,74.84 L396.2,76 L396.7,77.17 L397.2,78.34 L397.7,79.53 L398.2,80.72 L398.7,81.92 L399.2,83.13 L399.7,84.33 L400.2,85.54 L400.7,86.76 L401.2,87.97 L401.7,89.19 L402.2,90.42 L402.7,91.65 L403.2,92.89 L403.7,94.16 L404.2,95.44 L404.7,96.74 L405.2,98.05 L405.7,99.35 L406.2,100.65 L406.7,101.94 L407.2,103.21 L407.7,104.46 L408.2,105.68 L408.7,106.86 L409.2,108 L409.7,109.1 L410.2,110.19 L410.7,111.27 L411.2,112.33 L411.7,113.35 L412.2,114.32 L412.7,115.22 L413.2,116.05 L413.7,116.86 L414.2,117.65 L414.7,118.43 L415.2,119.19 L415.7,119.92 L416.2,120.62 L416.7,121.29 L417.2,121.92 L417.7,122.52 L418.2,123.07 L418.7,123.57 L419.2,124.02 L419.7,124.42 L420.2,124.76 L420.7,125.04 L421.2,125.27 L421.7,125.48 L422.2,125.68" fill="none" stroke="#e5161e" stroke-width="1.2" stroke-linejoin="round" stroke-linecap="round" />
<path d="M381.7,89.74 L382.2,89.92 L382.7,90.1 L383.2,90.27 L383.7,90.43 L384.2,90.58 L384.7,90.72 L385.2,90.86 L385.7,90.98 L386.2,91.08 L386.7,91.16 L387.2,91.21 L387.7,91.23 L388.2,91.22 L388.7,91.16 L389.2,91.05 L389.7,90.88 L390.2,90.65 L390.7,90.34 L391.2,89.95 L391.7,89.46 L392.2,88.88 L392.7,88.18 L393.2,87.36 L393.7,86.41 L394.2,85.31 L394.7,84.07 L395.2,82.68 L395.7,81.12 L396.2,79.4 L396.7,77.5 L397.2,75.43 L397.7,73.2 L398.2,70.79 L398.7,68.23 L399.2,65.52 L399.7,62.68 L400.2,59.72 L400.7,56.67 L401.2,53.55 L401.7,50.37 L402.2,47.19 L402.7,44.01 L403.2,40.89 L403.7,37.88 L404.2,34.99 L404.7,32.28 L405.2,29.76 L405.7,27.47 L406.2,25.43 L406.7,23.69 L407.2,22.26 L407.7,21.17 L408.2,20.44 L408.7,20.09 L409.2,20.13 L409.7,20.56 L410.2,21.39 L410.7,22.57 L411.2,24.07 L411.7,25.87 L412.2,27.93 L412.7,30.23 L413.2,32.75 L413.7,35.51 L414.2,38.5 L414.7,41.68 L415.2,45.03" fill="none" stroke="#2e2e2e" stroke-width="1.2" stroke-linejoin="round" stroke-linecap="round" />
<path d="M267.2,56.48 L267.7,56.48 L268.2,56.47 L268.7,56.47 L269.2,56.47 L269.7,56.46 L270.2,56.46 L270.7,56.45 L271.2,56.45 L271.7,56.44 L272.2,56.42 L272.7,56.41 L273.2,56.39 L273.7,56.36 L274.2,56.33 L274.7,56.3 L275.2,56.25 L275.7,56.2 L276.2,56.14 L276.7,56.06 L277.2,55.98 L277.7,55.89 L278.2,55.8 L278.7,55.69 L279.2,55.56 L279.7,55.42 L280.2,55.27 L280.7,55.09 L281.2,54.9 L281.7,54.68 L282.2,54.44 L282.7,54.17 L283.2,53.88 L283.7,53.56 L284.2,53.21 L284.7,52.83 L285.2,52.42 L285.7,51.99 L286.2,51.52 L286.7,51.03 L287.2,50.5 L287.7,49.96 L288.2,49.39 L288.7,48.8 L289.2,48.19 L289.7,47.57 L290.2,46.93 L290.7,46.3 L291.2,45.66 L291.7,45.02 L292.2,44.4 L292.7,43.79 L293.2,43.22 L293.7,42.67 L294.2,42.17 L294.7,41.71 L295.2,41.3 L295.7,40.94 L296.2,40.64 L296.7,40.4 L297.2,40.23 L297.7,40.13 L298.2,40.1 L298.7,40.14 L299.2,40.25 L299.7,40.43 L300.2,40.67 L300.7,40.97 L301.2,41.33 L301.7,41.75 L302.2,42.23 L302.7,42.75 L303.2,43.32 L303.7,43.93 L304.2,44.57 L304.7,45.23 L305.2,45.91 L305.7,46.6 L306.2,47.29 L306.7,47.98 L307.2,48.65 L307.7,49.3 L308.2,49.92 L308.7,50.51 L309.2,51.05 L309.7,51.55 L310.2,52 L310.7,52.4 L311.2,52.73 L311.7,52.99 L312.2,53.18 L312.7,53.29 L313.2,53.32 L313.7,53.27 L314.2,53.12 L314.7,52.89 L315.2,52.56 L315.7,52.14 L316.2,51.62 L316.7,51.02 L317.2,50.32 L317.7,49.54 L318.2,48.67 L318.7,47.73 L319.2,46.72 L319.7,45.65 L320.2,44.53 L320.7,43.36 L321.2,42.16 L321.7,40.93 L322.2,39.7 L322.7,38.47 L323.2,37.27 L323.7,36.09 L324.2,34.97 L324.7,33.91 L325.2,32.94 L325.7,32.07 L326.2,31.34 L326.7,30.76 L327.2,30.33 L327.7,30.07 L328.2,29.97 L328.7,30.05 L329.2,30.29 L329.7,30.7 L330.2,31.29 L330.7,32.09 L331.2,33.1 L331.7,34.3 L332.2,35.7 L332.7,37.26 L333.2,38.97 L333.7,40.81 L334.2,42.76 L334.7,44.79 L335.2,46.89 L335.7,49.02 L336.2,51.17 L336.7,53.32 L337.2,55.45 L337.7,57.53 L338.2,59.56 L338.7,61.5 L339.2,63.35 L339.7,65.14 L340.2,66.86 L340.7,68.49 L341.2,70.05 L341.7,71.52 L342.2,72.9 L342.7,74.18 L343.2,75.38 L343.7,76.48 L344.2,77.49 L344.7,78.42 L345.2,79.26 L345.7,80.02 L346.2,80.7 L346.7,81.31 L347.2,81.85 L347.7,82.34 L348.2,82.77 L348.7,83.15 L349.2,83.49 L349.7,83.78 L350.2,84.04 L350.7,84.27 L351.2,84.47 L351.7,84.65 L352.2,84.81 L352.7,84.95 L352.79,84.97 L352.8,83.83 L352.81,84.86 L353.2,84.79 L353.7,84.69 L354.2,84.59 L354.7,84.47 L355.2,84.34 L355.7,84.19 L356.2,84.03 L356.7,83.86 L357.2,83.67 L357.7,83.47 L358.2,83.24 L358.7,83 L359.2,82.75 L359.7,82.47 L360.2,82.18 L360.7,81.86 L361.2,81.52 L361.7,81.17 L362.2,80.79 L362.7,80.39 L363.2,79.97 L363.7,79.52 L364.2,79.06 L364.7,78.57 L365.2,78.06 L365.7,77.52 L366.2,76.97 L366.7,76.39 L367.2,75.8 L367.7,75.18 L368.2,74.54 L368.7,73.9 L369.2,73.24 L369.7,72.58 L370.2,71.9 L370.7,71.22 L371.2,70.53 L371.7,69.84 L372.2,69.15 L372.7,68.45 L373.2,67.76 L373.7,67.06 L374.2,66.37 L374.7,65.69 L375.2,65.02 L375.7,64.35 L376.2,63.7 L376.7,63.08 L377.2,62.48 L377.7,61.91 L378.2,61.37 L378.7,60.87 L379.2,60.4 L379.7,59.97 L380.2,59.58 L380.7,59.22 L381.2,58.91 L381.7,58.64 L382.2,58.42 L382.7,58.23 L383.2,58.09 L383.7,57.98 L384.2,57.92 L384.7,57.9 L385.2,57.92 L385.7,57.99 L386.2,58.08 L386.7,58.21 L387.2,58.38 L387.7,58.56 L388.2,58.76 L388.7,58.98 L389.2,59.19 L389.7,59.4 L390.2,59.59 L390.7,59.75 L391.2,59.88 L391.7,59.95 L392.2,59.96 L392.7,59.9 L393.2,59.74 L393.7,59.49 L394.2,59.12 L394.7,58.63 L395.2,58.01 L395.7,57.24 L396.2,56.32 L396.7,55.24 L397.2,53.99 L397.7,52.58 L398.2,51.01 L398.7,49.27 L399.2,47.39 L399.7,45.37 L400.2,43.22 L400.7,40.97 L401.2,38.63 L401.7,36.23 L402.2,33.8 L402.7,31.36 L403.2,28.96 L403.7,26.63 L404.2,24.43 L404.7,22.36 L405.2,20.46 L405.7,18.77 L406.2,17.32 L406.7,16.12 L407.2,15.22 L407.7,14.63 L408.2,14.38 L408.7,14.48 L409.2,14.94 L409.7,15.77 L410.2,16.98 L410.7,18.51 L411.2,20.35 L411.7,22.46 L412.2,24.82 L412.7,27.39 L413.2,30.16 L413.7,33.15 L414.2,36.36 L414.7,39.74 L415.2,43.27 L415.7,46.92 L416.2,50.66 L416.7,54.46 L417.2,58.3 L417.7,62.13 L418.2,65.94 L418.7,69.71 L419.2,73.39 L419.7,76.98 L420.2,80.44 L420.7,83.77 L421.2,86.96 L421.7,90.02 L422.2,92.96 L422.7,95.77 L423.2,98.43 L423.7,100.95 L424.2,103.33 L424.7,105.56 L425.2,107.64 L425.7,109.58 L426.2,111.37 L426.7,113.03 L427.2,114.56 L427.7,115.96 L428.2,117.24 L428.7,118.41 L429.2,119.47 L429.7,120.43 L430.2,121.3 L430.7,122.09 L431.2,122.79 L431.7,123.42 L432.2,123.99 L432.7,124.5 L433.2,124.96 L433.7,125.37 L434.2,125.74 L434.7,126.07 L435.2,126.37 L435.7,126.64 L436.2,126.88 L436.7,127.11 L437.2,127.32 L437.7,127.51 L438.2,127.69 L438.7,127.85 L439.2,128 L439.7,128.14 L440.2,128.27 L440.7,128.4 L441.2,128.51 L441.7,128.62 L442.2,128.73 L442.7,128.83 L443.2,128.92 L443.7,129.01 L444.2,129.11 L444.7,129.19 L445.2,129.28 L445.7,129.36 L446.2,129.45 L446.7,129.53 L447.2,129.61 L447.7,129.69 L448.2,129.77 L448.7,129.85 L449.2,129.94 L449.7,130.02 L450.2,130.1 L450.7,130.18 L451.2,130.26 L451.7,130.35 L452.2,130.43 L452.7,130.51 L453.2,130.59 L453.7,130.66 L454.2,130.74 L454.7,130.81 L455.2,130.88 L455.7,130.95 L456.2,131.02 L456.7,131.09 L457.2,131.16 L457.7,131.24 L458.2,131.31 L458.7,131.4 L459.2,131.49 L459.7,131.58 L460.2,131.68 L460.7,131.79 L461.2,131.9 L461.7,132.02 L462.2,132.15 L462.7,132.3 L463.2,132.49 L463.7,132.73 L464.2,133 L464.7,133.31 L465.2,133.64 L465.7,133.99 L466.2,134.34" fill="none" stroke="#d9a21b" stroke-width="1.5" stroke-linejoin="round" stroke-linecap="round" />
<rect x="266.5" y="1.6" width="200.3" height="150" fill="none" stroke="#141414" stroke-width="1.3"/>
<path d="M266.5,151.6 V154.4 M316.57,151.6 V154.4 M366.65,151.6 V154.4 M416.73,151.6 V154.4 M466.8,151.6 V154.4 M291.54,151.6 V153.3 M341.61,151.6 V153.3 M391.69,151.6 V153.3 M441.76,151.6 V153.3" stroke="#141414" stroke-width="1.2" fill="none"/>
<text x="266.5" y="163.4" font-size="9" fill="#1a1a1a" text-anchor="middle" font-weight="normal" stroke="#1a1a1a" stroke-width="0.25" textLength="14.4" lengthAdjust="spacingAndGlyphs">810</text>
<text x="316.57" y="163.4" font-size="9" fill="#1a1a1a" text-anchor="middle" font-weight="normal" stroke="#1a1a1a" stroke-width="0.25" textLength="14.4" lengthAdjust="spacingAndGlyphs">800</text>
<text x="366.65" y="163.4" font-size="9" fill="#1a1a1a" text-anchor="middle" font-weight="normal" stroke="#1a1a1a" stroke-width="0.25" textLength="14.4" lengthAdjust="spacingAndGlyphs">790</text>
<text x="416.73" y="163.4" font-size="9" fill="#1a1a1a" text-anchor="middle" font-weight="normal" stroke="#1a1a1a" stroke-width="0.25" textLength="14.4" lengthAdjust="spacingAndGlyphs">780</text>
<text x="466.8" y="163.4" font-size="9" fill="#1a1a1a" text-anchor="middle" font-weight="normal" stroke="#1a1a1a" stroke-width="0.25" textLength="14.4" lengthAdjust="spacingAndGlyphs">770</text>
<text x="269.4" y="18.9" font-size="16.5" fill="#111" text-anchor="start" font-weight="normal" stroke="#111" stroke-width="0.5" textLength="20.6" lengthAdjust="spacingAndGlyphs">(b)</text>
<text x="311" y="179.9" font-size="12.7" fill="#111" text-anchor="start" font-weight="normal" stroke="#111" stroke-width="0.5" textLength="112.2" lengthAdjust="spacingAndGlyphs">Binding Energy (eV)</text>
<text font-size="12.6" fill="#111" text-anchor="start" font-weight="normal" stroke="#111" stroke-width="0.5" textLength="80.8" lengthAdjust="spacingAndGlyphs" transform="translate(259.6,117.6) rotate(-90)">Intensity (a.u.)</text>
<text x="428.3" y="17" font-size="12.5" fill="#111" text-anchor="start" font-weight="normal" stroke="#111" stroke-width="0.38" textLength="32.2" lengthAdjust="spacingAndGlyphs">Co 2p</text>
<text x="292" y="36.2" font-size="8.2" fill="#222" text-anchor="start" font-weight="normal" stroke="#222" stroke-width="0.2" textLength="14.2" lengthAdjust="spacingAndGlyphs">Sat.</text>
<text x="376.5" y="54.2" font-size="8.2" fill="#222" text-anchor="start" font-weight="normal" stroke="#222" stroke-width="0.2" textLength="14.5" lengthAdjust="spacingAndGlyphs">Sat.</text>
<text x="318.4" y="25.5" font-size="8.2" fill="#222" stroke="#222" stroke-width="0.15"><tspan textLength="20.6" lengthAdjust="spacingAndGlyphs">Co 2p</tspan><tspan font-size="6.2" dy="1.4" dx="0.4" stroke-width="0.05" fill="#333" textLength="6.6" lengthAdjust="spacingAndGlyphs">1/2</tspan></text>
<text x="415.6" y="30.6" font-size="8.2" fill="#222" stroke="#222" stroke-width="0.15"><tspan textLength="20.6" lengthAdjust="spacingAndGlyphs">Co 2p</tspan><tspan font-size="6.2" dy="1.4" dx="0.4" stroke-width="0.05" fill="#333" textLength="7" lengthAdjust="spacingAndGlyphs">3/2</tspan></text>
<path d="M15.8,240.76 L18,242.96 M15.8,242.96 L18,240.76 M19.3,240.88 L21.5,243.08 M19.3,243.08 L21.5,240.88 M22.8,237.58 L25,239.78 M22.8,239.78 L25,237.58 M26.3,236.81 L28.5,239.01 M26.3,239.01 L28.5,236.81 M29.8,231.57 L32,233.77 M29.8,233.77 L32,231.57 M33.3,231.1 L35.5,233.3 M33.3,233.3 L35.5,231.1 M36.8,232.84 L39,235.04 M36.8,235.04 L39,232.84 M40.3,235.36 L42.5,237.56 M40.3,237.56 L42.5,235.36 M43.8,241.07 L46,243.27 M43.8,243.27 L46,241.07 M47.3,245.19 L49.5,247.39 M47.3,247.39 L49.5,245.19 M50.8,248.73 L53,250.93 M50.8,250.93 L53,248.73 M54.3,248.63 L56.5,250.83 M54.3,250.83 L56.5,248.63 M57.8,244.4 L60,246.6 M57.8,246.6 L60,244.4 M61.3,240.45 L63.5,242.65 M61.3,242.65 L63.5,240.45 M64.8,231.39 L67,233.59 M64.8,233.59 L67,231.39 M68.3,222.25 L70.5,224.45 M68.3,224.45 L70.5,222.25 M71.8,217.63 L74,219.83 M71.8,219.83 L74,217.63 M75.3,222.58 L77.5,224.78 M75.3,224.78 L77.5,222.58 M78.8,235.01 L81,237.21 M78.8,237.21 L81,235.01 M82.3,247.94 L84.5,250.14 M82.3,250.14 L84.5,247.94 M85.8,265.09 L88,267.29 M85.8,267.29 L88,265.09 M89.3,276.2 L91.5,278.4 M89.3,278.4 L91.5,276.2 M92.8,284.24 L95,286.44 M92.8,286.44 L95,284.24 M96.3,289.48 L98.5,291.68 M96.3,291.68 L98.5,289.48 M99.8,291.52 L102,293.72 M99.8,293.72 L102,291.52 M103.3,291.07 L105.5,293.27 M103.3,293.27 L105.5,291.07 M105.3,288.53 L107.5,290.73 M105.3,290.73 L107.5,288.53 M108.8,290.36 L111,292.56 M108.8,292.56 L111,290.36 M112.3,286.59 L114.5,288.79 M112.3,288.79 L114.5,286.59 M115.8,285.72 L118,287.92 M115.8,287.92 L118,285.72 M119.3,284.8 L121.5,287 M119.3,287 L121.5,284.8 M122.8,279.27 L125,281.47 M122.8,281.47 L125,279.27 M126.3,274.27 L128.5,276.47 M126.3,276.47 L128.5,274.27 M129.8,271.21 L132,273.41 M129.8,273.41 L132,271.21 M133.3,265.32 L135.5,267.52 M133.3,267.52 L135.5,265.32 M136.8,257.45 L139,259.65 M136.8,259.65 L139,257.45 M140.3,253.33 L142.5,255.53 M140.3,255.53 L142.5,253.33 M143.8,251.21 L146,253.41 M143.8,253.41 L146,251.21 M147.3,252.31 L149.5,254.51 M147.3,254.51 L149.5,252.31 M150.8,257.3 L153,259.5 M150.8,259.5 L153,257.3 M154.3,265.87 L156.5,268.07 M154.3,268.07 L156.5,265.87 M157.8,267.64 L160,269.84 M157.8,269.84 L160,267.64 M161.3,269.37 L163.5,271.57 M161.3,271.57 L163.5,269.37 M164.8,263.81 L167,266.01 M164.8,266.01 L167,263.81 M168.3,250.43 L170.5,252.63 M168.3,252.63 L170.5,250.43 M171.8,234.48 L174,236.68 M171.8,236.68 L174,234.48 M175.3,219.34 L177.5,221.54 M175.3,221.54 L177.5,219.34 M178.8,213.56 L181,215.76 M178.8,215.76 L181,213.56 M182.3,221.32 L184.5,223.52 M182.3,223.52 L184.5,221.32 M185.8,241.84 L188,244.04 M185.8,244.04 L188,241.84 M189.3,264.63 L191.5,266.83 M189.3,266.83 L191.5,264.63 M192.8,290.58 L195,292.78 M192.8,292.78 L195,290.58 M196.3,312.43 L198.5,314.63 M196.3,314.63 L198.5,312.43 M199.8,321.78 L202,323.98 M199.8,323.98 L202,321.78 M203.3,329.72 L205.5,331.92 M203.3,331.92 L205.5,329.72 M206.8,334.22 L209,336.42 M206.8,336.42 L209,334.22 M210.3,335.23 L212.5,337.43 M210.3,337.43 L212.5,335.23 M213.8,336.98 L216,339.18 M213.8,339.18 L216,336.98" stroke="#cfcfcf" stroke-width="0.7" fill="none"/>
<path d="M196.4,309.77 L198.6,311.97 M196.4,311.97 L198.6,309.77 M198.1,312.86 L200.3,315.06 M198.1,315.06 L200.3,312.86 M199.8,316.71 L202,318.91 M199.8,318.91 L202,316.71 M201.5,318.4 L203.7,320.6 M201.5,320.6 L203.7,318.4 M203.2,322.3 L205.4,324.5 M203.2,324.5 L205.4,322.3 M204.9,323.84 L207.1,326.04 M204.9,326.04 L207.1,323.84 M206.6,327.34 L208.8,329.54 M206.6,329.54 L208.8,327.34 M208.3,329.26 L210.5,331.46 M208.3,331.46 L210.5,329.26 M210,331.58 L212.2,333.78 M210,333.78 L212.2,331.58 M211.7,333.23 L213.9,335.43 M211.7,335.43 L213.9,333.23" stroke="#b4b4b4" stroke-width="0.75" fill="none"/>
<path d="M16.9,244.89 L17.4,245.02 L17.9,245.16 L18.4,245.3 L18.9,245.44 L19.4,245.58 L19.9,245.72 L20.4,245.86 L20.9,246 L21.4,246.14 L21.9,246.28 L22.4,246.43 L22.9,246.57 L23.4,246.72 L23.9,246.86 L24.4,247.01 L24.9,247.16 L25.4,247.3 L25.9,247.45 L26.4,247.6 L26.9,247.75 L27.4,247.9 L27.9,248.06 L28.4,248.21 L28.9,248.36 L29.4,248.51 L29.9,248.67 L30.4,248.82 L30.9,248.98 L31.4,249.14 L31.9,249.3 L32.4,249.46 L32.9,249.63 L33.4,249.79 L33.9,249.96 L34.4,250.12 L34.9,250.29 L35.4,250.46 L35.9,250.63 L36.4,250.79 L36.9,250.96 L37.4,251.13 L37.9,251.3 L38.4,251.48 L38.9,251.65 L39.4,251.82 L39.9,251.99 L40.4,252.16 L40.9,252.33 L41.4,252.5 L41.9,252.67 L42.4,252.83 L42.9,253 L43.4,253.17 L43.9,253.33 L44.4,253.5 L44.9,253.66 L45.4,253.82 L45.9,253.97 L46.4,254.12 L46.9,254.27 L47.4,254.42 L47.9,254.56 L48.4,254.71 L48.9,254.85 L49.4,255 L49.9,255.14 L50.4,255.29 L50.9,255.43 L51.4,255.58 L51.9,255.73 L52.4,255.89 L52.9,256.04 L53.4,256.2 L53.9,256.37 L54.4,256.54 L54.9,256.71 L55.4,256.89 L55.9,257.07 L56.4,257.26 L56.9,257.46 L57.4,257.66 L57.9,257.87 L58.4,258.09 L58.9,258.31 L59.4,258.55 L59.9,258.79 L60.4,259.04 L60.9,259.3 L61.4,259.57 L61.9,259.85 L62.4,260.14 L62.9,260.44 L63.4,260.75 L63.9,261.08 L64.4,261.42 L64.9,261.77 L65.4,262.13 L65.9,262.51 L66.4,262.9 L66.9,263.31 L67.4,263.73 L67.9,264.17 L68.4,264.68 L68.9,265.23 L69.4,265.84 L69.9,266.48 L70.4,267.17 L70.9,267.87 L71.4,268.6 L71.9,269.34 L72.4,270.09 L72.9,270.84 L73.4,271.58 L73.9,272.31 L74.4,273.02 L74.9,273.72 L75.4,274.44 L75.9,275.19 L76.4,275.96 L76.9,276.74 L77.4,277.54 L77.9,278.34 L78.4,279.14 L78.9,279.94 L79.4,280.72 L79.9,281.49 L80.4,282.24 L80.9,282.96 L81.4,283.65 L81.9,284.3 L82.4,284.91 L82.9,285.47 L83.4,285.97 L83.9,286.42 L84.4,286.82 L84.9,287.22 L85.4,287.61 L85.9,288 L86.4,288.37 L86.9,288.74 L87.4,289.09 L87.9,289.43 L88.4,289.76 L88.9,290.07 L89.4,290.36 L89.9,290.62 L90.4,290.87 L90.9,291.1 L91.4,291.29 L91.9,291.46 L92.4,291.61 L92.9,291.72 L93.4,291.8 L93.9,291.86 L94.4,291.92 L94.9,291.98 L95.4,292.04 L95.9,292.09 L96.4,292.15 L96.9,292.2 L97.4,292.24 L97.9,292.29 L98.4,292.33 L98.9,292.37 L99.4,292.4 L99.9,292.44 L100.4,292.47 L100.9,292.5 L101.4,292.52 L101.9,292.54 L102.4,292.56 L102.9,292.57 L103.4,292.59 L103.9,292.59 L104.4,292.6 L104.79,292.6 L104.8,292.6 L104.81,292.6 L104.9,292.6 L105.4,292.59 L105.9,292.58 L106.4,292.56 L106.9,292.54 L107.4,292.51 L107.9,292.48 L108.4,292.45 L108.9,292.41 L109.4,292.38 L109.9,292.34 L110.4,292.31 L110.9,292.28 L111.4,292.25 L111.9,292.23 L112.4,292.21 L112.9,292.2 L113.4,292.2 L113.9,292.2 L114.4,292.2 L114.9,292.2 L115.4,292.2 L115.9,292.21 L116.4,292.21 L116.9,292.21 L117.4,292.21 L117.9,292.22 L118.4,292.22 L118.9,292.22 L119.4,292.23 L119.9,292.23 L120.4,292.24 L120.9,292.24 L121.4,292.25 L121.9,292.26 L122.4,292.26 L122.9,292.27 L123.4,292.28 L123.9,292.28 L124.4,292.29 L124.9,292.3 L125.4,292.31 L125.9,292.34 L126.4,292.38 L126.9,292.43 L127.4,292.5 L127.9,292.58 L128.4,292.67 L128.9,292.77 L129.4,292.88 L129.9,293 L130.4,293.13 L130.9,293.26 L131.4,293.41 L131.9,293.56 L132.4,293.72 L132.9,293.89 L133.4,294.06 L133.9,294.23 L134.4,294.41 L134.9,294.59 L135.4,294.77 L135.9,294.96 L136.4,295.15 L136.9,295.34 L137.4,295.53 L137.9,295.72 L138.4,295.91 L138.9,296.1 L139.4,296.28 L139.9,296.46 L140.4,296.65 L140.9,296.84 L141.4,297.04 L141.9,297.26 L142.4,297.48 L142.9,297.71 L143.4,297.94 L143.9,298.18 L144.4,298.43 L144.9,298.68 L145.4,298.94 L145.9,299.2 L146.4,299.46 L146.9,299.73 L147.4,300 L147.9,300.27 L148.4,300.54 L148.9,300.81 L149.4,301.08 L149.9,301.35 L150.4,301.61 L150.9,301.88 L151.4,302.14 L151.9,302.4 L152.4,302.65 L152.9,302.9 L153.4,303.14 L153.9,303.38 L154.4,303.61 L154.9,303.84 L155.4,304.07 L155.9,304.3 L156.4,304.52 L156.9,304.74 L157.4,304.97 L157.9,305.19 L158.4,305.41 L158.9,305.64 L159.4,305.86 L159.9,306.09 L160.4,306.33 L160.9,306.56 L161.4,306.8 L161.9,307.05 L162.4,307.3 L162.9,307.56 L163.4,307.83 L163.9,308.1 L164.4,308.38 L164.9,308.67 L165.4,308.97 L165.9,309.28 L166.4,309.6 L166.9,309.93 L167.4,310.28 L167.9,310.66 L168.4,311.06 L168.9,311.48 L169.4,311.93 L169.9,312.4 L170.4,312.88 L170.9,313.38 L171.4,313.89 L171.9,314.41 L172.4,314.94 L172.9,315.48 L173.4,316.02 L173.9,316.57 L174.4,317.12 L174.9,317.66 L175.4,318.2 L175.9,318.74 L176.4,319.27 L176.9,319.79 L177.4,320.3 L177.9,320.8 L178.4,321.32 L178.9,321.85 L179.4,322.39 L179.9,322.93 L180.4,323.48 L180.9,324.02 L181.4,324.56 L181.9,325.1 L182.4,325.63 L182.9,326.14 L183.4,326.64 L183.9,327.13 L184.4,327.59 L184.9,328.03 L185.4,328.44 L185.9,328.82 L186.4,329.2 L186.9,329.57 L187.4,329.94 L187.9,330.3 L188.4,330.66 L188.9,331.02 L189.4,331.37 L189.9,331.71 L190.4,332.05 L190.9,332.38 L191.4,332.71 L191.9,333.02 L192.4,333.32 L192.9,333.62 L193.4,333.9 L193.9,334.18 L194.4,334.44 L194.9,334.69 L195.4,334.92 L195.9,335.14 L196.4,335.35 L196.9,335.54 L197.4,335.72 L197.9,335.88 L198.4,336.03 L198.9,336.17 L199.4,336.3 L199.9,336.44 L200.4,336.57 L200.9,336.71 L201.4,336.84 L201.9,336.97 L202.4,337.1 L202.9,337.22 L203.4,337.34 L203.9,337.47 L204.4,337.58 L204.9,337.7 L205.4,337.81 L205.9,337.92 L206.4,338.03 L206.9,338.13 L207.4,338.23 L207.9,338.32 L208.4,338.41 L208.9,338.5 L209.4,338.58 L209.9,338.66 L210.4,338.73 L210.9,338.8 L211.4,338.87 L211.9,338.92 L212.4,338.98 L212.9,339.03 L213.4,339.07 L213.9,339.11 L214.4,339.14 L214.9,339.16 L215.4,339.18 L215.9,339.19" fill="none" stroke="#a064dc" stroke-width="1.2" stroke-linejoin="round" stroke-linecap="round" />
<path d="M39.9,236.01 L40.4,236.47 L40.9,236.96 L41.4,237.48 L41.9,238.03 L42.4,238.6 L42.9,239.19 L43.4,239.81 L43.9,240.43 L44.4,241.08 L44.9,241.72 L45.4,242.38 L45.9,243.03 L46.4,243.69 L46.9,244.34 L47.4,245 L47.9,245.64 L48.4,246.28 L48.9,246.91 L49.4,247.53 L49.9,248.14 L50.4,248.74 L50.9,249.32 L51.4,249.9 L51.9,250.45 L52.4,250.99 L52.9,251.52 L53.4,252.03 L53.9,252.53 L54.4,253.02 L54.9,253.49 L55.4,253.94 L55.9,254.39 L56.4,254.82 L56.9,255.25 L57.4,255.66 L57.9,256.07 L58.4,256.47 L58.9,256.86 L59.4,257.24 L59.9,257.63 L60.4,258 L60.9,258.38 L61.4,258.75 L61.9,259.12 L62.4,259.5 L62.9,259.88 L63.4,260.26 L63.9,260.64 L64.4,261.04 L64.9,261.43" fill="none" stroke="#1f5fd8" stroke-width="1.1" stroke-linejoin="round" stroke-linecap="round" />
<path d="M46.4,253.8 L46.9,253.9 L47.4,253.99 L47.9,254.07 L48.4,254.14 L48.9,254.19 L49.4,254.23 L49.9,254.26 L50.4,254.27 L50.9,254.25 L51.4,254.22 L51.9,254.16 L52.4,254.08 L52.9,253.97 L53.4,253.82 L53.9,253.64 L54.4,253.42 L54.9,253.16 L55.4,252.86 L55.9,252.51 L56.4,252.11 L56.9,251.66 L57.4,251.15 L57.9,250.58 L58.4,249.94 L58.9,249.25 L59.4,248.49 L59.9,247.66 L60.4,246.76 L60.9,245.8 L61.4,244.77 L61.9,243.67 L62.4,242.52 L62.9,241.31 L63.4,240.04 L63.9,238.73 L64.4,237.38 L64.9,236 L65.4,234.59 L65.9,233.17 L66.4,231.74 L66.9,230.33 L67.4,228.93 L67.9,227.58 L68.4,226.31 L68.9,225.15 L69.4,224.09 L69.9,223.14 L70.4,222.31 L70.9,221.61 L71.4,221.04 L71.9,220.6 L72.4,220.3" fill="none" stroke="#22a24a" stroke-width="1.1" stroke-linejoin="round" stroke-linecap="round" />
<path d="M144.4,253.89 L144.9,253.86 L145.4,253.9 L145.9,254.01 L146.4,254.19 L146.9,254.44 L147.4,254.77 L147.9,255.16 L148.4,255.63 L148.9,256.16 L149.4,256.76 L149.9,257.42 L150.4,258.15 L150.9,258.92 L151.4,259.76 L151.9,260.64 L152.4,261.56 L152.9,262.53 L153.4,263.54 L153.9,264.59 L154.4,265.66 L154.9,266.77 L155.4,267.9 L155.9,269.05 L156.4,270.23 L156.9,271.43 L157.4,272.63 L157.9,273.85 L158.4,275.09 L158.9,276.32 L159.4,277.56 L159.9,278.81 L160.4,280.05 L160.9,281.3 L161.4,282.53 L161.9,283.77 L162.4,284.99 L162.9,286.21 L163.4,287.42 L163.9,288.61 L164.4,289.8 L164.9,290.97 L165.4,292.13 L165.9,293.27 L166.4,294.4 L166.9,295.52 L167.4,296.63 L167.9,297.73 L168.4,298.84 L168.9,299.94 L169.4,301.04 L169.9,302.13 L170.4,303.21 L170.9,304.28 L171.4,305.33 L171.9,306.37 L172.4,307.39 L172.9,308.4 L173.4,309.38 L173.9,310.34 L174.4,311.28 L174.9,312.2 L175.4,313.09 L175.9,313.96 L176.4,314.79 L176.9,315.6 L177.4,316.38 L177.9,317.14 L178.4,317.89 L178.9,318.64 L179.4,319.39 L179.9,320.12 L180.4,320.84 L180.9,321.55 L181.4,322.25 L181.9,322.92 L182.4,323.58 L182.9,324.22 L183.4,324.83 L183.9,325.42 L184.4,325.98 L184.9,326.5 L185.4,327 L185.9,327.46 L186.4,327.9 L186.9,328.33 L187.4,328.76 L187.9,329.18 L188.4,329.59 L188.9,329.99 L189.4,330.39" fill="none" stroke="#e5161e" stroke-width="1.2" stroke-linejoin="round" stroke-linecap="round" />
<path d="M148.9,300.47 L149.4,300.7 L149.9,300.92 L150.4,301.12 L150.9,301.32 L151.4,301.5 L151.9,301.66 L152.4,301.8 L152.9,301.91 L153.4,302 L153.9,302.05 L154.4,302.08 L154.9,302.07 L155.4,302.02 L155.9,301.92 L156.4,301.78 L156.9,301.58 L157.4,301.33 L157.9,301.02 L158.4,300.63 L158.9,300.17 L159.4,299.63 L159.9,299.01 L160.4,298.29 L160.9,297.47 L161.4,296.55 L161.9,295.51 L162.4,294.35 L162.9,293.08 L163.4,291.67 L163.9,290.13 L164.4,288.46 L164.9,286.64 L165.4,284.69 L165.9,282.6 L166.4,280.37 L166.9,278 L167.4,275.51 L167.9,272.91 L168.4,270.21 L168.9,267.42 L169.4,264.53 L169.9,261.58 L170.4,258.56 L170.9,255.5 L171.4,252.41 L171.9,249.31 L172.4,246.22 L172.9,243.17 L173.4,240.17 L173.9,237.24 L174.4,234.42 L174.9,231.73 L175.4,229.18 L175.9,226.81 L176.4,224.64 L176.9,222.68 L177.4,220.97 L177.9,219.52 L178.4,218.37 L178.9,217.54 L179.4,217.03 L179.9,216.86 L180.4,217.02 L180.9,217.52 L181.4,218.33 L181.9,219.42 L182.4,220.8 L182.9,222.45 L183.4,224.36 L183.9,226.52 L184.4,228.9 L184.9,231.5 L185.4,234.28" fill="none" stroke="#2e2e2e" stroke-width="1.2" stroke-linejoin="round" stroke-linecap="round" />
<path d="M16.9,242.62 L17.4,242.52 L17.9,242.39 L18.4,242.25 L18.9,242.09 L19.4,241.91 L19.9,241.71 L20.4,241.49 L20.9,241.25 L21.4,240.99 L21.9,240.72 L22.4,240.43 L22.9,240.12 L23.4,239.79 L23.9,239.45 L24.4,239.1 L24.9,238.74 L25.4,238.37 L25.9,237.99 L26.4,237.61 L26.9,237.23 L27.4,236.85 L27.9,236.48 L28.4,236.11 L28.9,235.76 L29.4,235.42 L29.9,235.09 L30.4,234.79 L30.9,234.51 L31.4,234.26 L31.9,234.03 L32.4,233.85 L32.9,233.69 L33.4,233.58 L33.9,233.5 L34.4,233.47 L34.9,233.48 L35.4,233.53 L35.9,233.63 L36.4,233.78 L36.9,233.97 L37.4,234.2 L37.9,234.46 L38.4,234.77 L38.9,235.12 L39.4,235.51 L39.9,235.93 L40.4,236.38 L40.9,236.86 L41.4,237.38 L41.9,237.91 L42.4,238.47 L42.9,239.05 L43.4,239.65 L43.9,240.26 L44.4,240.88 L44.9,241.5 L45.4,242.13 L45.9,242.75 L46.4,243.37 L46.9,243.97 L47.4,244.57 L47.9,245.15 L48.4,245.71 L48.9,246.26 L49.4,246.77 L49.9,247.26 L50.4,247.72 L50.9,248.15 L51.4,248.53 L51.9,248.88 L52.4,249.19 L52.9,249.44 L53.4,249.65 L53.9,249.81 L54.4,249.9 L54.9,249.94 L55.4,249.92 L55.9,249.83 L56.4,249.68 L56.9,249.45 L57.4,249.15 L57.9,248.77 L58.4,248.32 L58.9,247.79 L59.4,247.18 L59.9,246.49 L60.4,245.72 L60.9,244.87 L61.4,243.95 L61.9,242.95 L62.4,241.88 L62.9,240.74 L63.4,239.55 L63.9,238.3 L64.4,237 L64.9,235.66 L65.4,234.3 L65.9,232.92 L66.4,231.52 L66.9,230.14 L67.4,228.77 L67.9,227.44 L68.4,226.19 L68.9,225.04 L69.4,224 L69.9,223.06 L70.4,222.25 L70.9,221.55 L71.4,220.99 L71.9,220.56 L72.4,220.27 L72.9,220.12 L73.4,220.12 L73.9,220.27 L74.4,220.56 L74.9,221.01 L75.4,221.65 L75.9,222.49 L76.4,223.53 L76.9,224.74 L77.4,226.13 L77.9,227.68 L78.4,229.38 L78.9,231.22 L79.4,233.17 L79.9,235.23 L80.4,237.38 L80.9,239.59 L81.4,241.86 L81.9,244.16 L82.4,246.47 L82.9,248.78 L83.4,251.07 L83.9,253.32 L84.4,255.52 L84.9,257.72 L85.4,259.9 L85.9,262.04 L86.4,264.14 L86.9,266.18 L87.4,268.17 L87.9,270.08 L88.4,271.91 L88.9,273.66 L89.4,275.32 L89.9,276.89 L90.4,278.36 L90.9,279.74 L91.4,281.01 L91.9,282.19 L92.4,283.26 L92.9,284.23 L93.4,285.1 L93.9,285.89 L94.4,286.61 L94.9,287.27 L95.4,287.87 L95.9,288.41 L96.4,288.91 L96.9,289.35 L97.4,289.75 L97.9,290.11 L98.4,290.43 L98.9,290.72 L99.4,290.97 L99.9,291.19 L100.4,291.39 L100.9,291.56 L101.4,291.71 L101.9,291.84 L102.4,291.95 L102.9,292.05 L103.4,292.13 L103.9,292.2 L104.4,292.25 L104.79,292.29 L104.8,291.22 L104.81,291.53 L104.9,291.52 L105.4,291.47 L105.9,291.4 L106.4,291.33 L106.9,291.24 L107.4,291.15 L107.9,291.04 L108.4,290.93 L108.9,290.81 L109.4,290.68 L109.9,290.55 L110.4,290.41 L110.9,290.26 L111.4,290.11 L111.9,289.95 L112.4,289.78 L112.9,289.62 L113.4,289.44 L113.9,289.26 L114.4,289.06 L114.9,288.85 L115.4,288.62 L115.9,288.37 L116.4,288.11 L116.9,287.84 L117.4,287.54 L117.9,287.22 L118.4,286.89 L118.9,286.53 L119.4,286.15 L119.9,285.75 L120.4,285.32 L120.9,284.87 L121.4,284.39 L121.9,283.89 L122.4,283.37 L122.9,282.82 L123.4,282.24 L123.9,281.63 L124.4,281 L124.9,280.34 L125.4,279.65 L125.9,278.96 L126.4,278.25 L126.9,277.53 L127.4,276.79 L127.9,276.04 L128.4,275.28 L128.9,274.5 L129.4,273.72 L129.9,272.92 L130.4,272.11 L130.9,271.29 L131.4,270.47 L131.9,269.63 L132.4,268.79 L132.9,267.95 L133.4,267.11 L133.9,266.27 L134.4,265.43 L134.9,264.59 L135.4,263.76 L135.9,262.94 L136.4,262.13 L136.9,261.34 L137.4,260.57 L137.9,259.81 L138.4,259.08 L138.9,258.38 L139.4,257.7 L139.9,257.06 L140.4,256.46 L140.9,255.91 L141.4,255.41 L141.9,254.98 L142.4,254.6 L142.9,254.29 L143.4,254.04 L143.9,253.86 L144.4,253.74 L144.9,253.7 L145.4,253.72 L145.9,253.82 L146.4,253.99 L146.9,254.22 L147.4,254.53 L147.9,254.9 L148.4,255.33 L148.9,255.83 L149.4,256.38 L149.9,257 L150.4,257.66 L150.9,258.36 L151.4,259.11 L151.9,259.9 L152.4,260.71 L152.9,261.55 L153.4,262.4 L153.9,263.26 L154.4,264.13 L154.9,264.99 L155.4,265.84 L155.9,266.68 L156.4,267.49 L156.9,268.27 L157.4,269 L157.9,269.68 L158.4,270.31 L158.9,270.86 L159.4,271.34 L159.9,271.72 L160.4,272.02 L160.9,272.2 L161.4,272.28 L161.9,272.23 L162.4,272.04 L162.9,271.72 L163.4,271.26 L163.9,270.64 L164.4,269.87 L164.9,268.94 L165.4,267.85 L165.9,266.59 L166.4,265.17 L166.9,263.59 L167.4,261.86 L167.9,259.99 L168.4,258 L168.9,255.88 L169.4,253.65 L169.9,251.31 L170.4,248.89 L170.9,246.4 L171.4,243.85 L171.9,241.27 L172.4,238.67 L172.9,236.08 L173.4,233.52 L173.9,231.02 L174.4,228.59 L174.9,226.26 L175.4,224.07 L175.9,222.03 L176.4,220.16 L176.9,218.5 L177.4,217.05 L177.9,215.85 L178.4,214.94 L178.9,214.33 L179.4,214.03 L179.9,214.05 L180.4,214.39 L180.9,215.05 L181.4,216.01 L181.9,217.25 L182.4,218.76 L182.9,220.53 L183.4,222.55 L183.9,224.81 L184.4,227.29 L184.9,229.97 L185.4,232.84 L185.9,235.87 L186.4,239.06 L186.9,242.4 L187.4,245.86 L187.9,249.43 L188.4,253.09 L188.9,256.8 L189.4,260.56 L189.9,264.34 L190.4,268.11 L190.9,271.87 L191.4,275.59 L191.9,279.25 L192.4,282.85 L192.9,286.35 L193.4,289.76 L193.9,293.06 L194.4,296.25 L194.9,299.3 L195.4,302.22 L195.9,305 L196.4,307.64 L196.9,310.13 L197.4,312.47 L197.9,314.66 L198.4,316.71 L198.9,318.62 L199.4,320.4 L199.9,322.06 L200.4,323.6 L200.9,325.03 L201.4,326.35 L201.9,327.56 L202.4,328.68 L202.9,329.7 L203.4,330.63 L203.9,331.48 L204.4,332.26 L204.9,332.96 L205.4,333.6 L205.9,334.18 L206.4,334.7 L206.9,335.18 L207.4,335.6 L207.9,335.99 L208.4,336.33 L208.9,336.64 L209.4,336.92 L209.9,337.17 L210.4,337.39 L210.9,337.59 L211.4,337.76 L211.9,337.92 L212.4,338.06 L212.9,338.18 L213.4,338.28 L213.9,338.37 L214.4,338.45 L214.9,338.52 L215.4,338.57 L215.9,338.62" fill="none" stroke="#d9a21b" stroke-width="1.5" stroke-linejoin="round" stroke-linecap="round" />
<rect x="16.2" y="201.6" width="200.4" height="149.8" fill="none" stroke="#141414" stroke-width="1.3"/>
<path d="M34.4,351.4 V354.2 M95.13,351.4 V354.2 M155.87,351.4 V354.2 M216.6,351.4 V354.2 M64.77,351.4 V353.1 M125.5,351.4 V353.1 M186.23,351.4 V353.1" stroke="#141414" stroke-width="1.2" fill="none"/>
<text x="34.4" y="363.5" font-size="9" fill="#1a1a1a" text-anchor="middle" font-weight="normal" stroke="#1a1a1a" stroke-width="0.25" textLength="13.8" lengthAdjust="spacingAndGlyphs">880</text>
<text x="95.13" y="363.5" font-size="9" fill="#1a1a1a" text-anchor="middle" font-weight="normal" stroke="#1a1a1a" stroke-width="0.25" textLength="13.8" lengthAdjust="spacingAndGlyphs">870</text>
<text x="155.87" y="363.5" font-size="9" fill="#1a1a1a" text-anchor="middle" font-weight="normal" stroke="#1a1a1a" stroke-width="0.25" textLength="13.8" lengthAdjust="spacingAndGlyphs">860</text>
<text x="216.6" y="363.5" font-size="9" fill="#1a1a1a" text-anchor="middle" font-weight="normal" stroke="#1a1a1a" stroke-width="0.25" textLength="13.8" lengthAdjust="spacingAndGlyphs">850</text>
<text x="19" y="218.9" font-size="16.5" fill="#111" text-anchor="start" font-weight="normal" stroke="#111" stroke-width="0.5" textLength="19.2" lengthAdjust="spacingAndGlyphs">(c)</text>
<text x="60.2" y="379.4" font-size="12.7" fill="#111" text-anchor="start" font-weight="normal" stroke="#111" stroke-width="0.5" textLength="112.2" lengthAdjust="spacingAndGlyphs">Binding Energy (eV)</text>
<text font-size="12.6" fill="#111" text-anchor="start" font-weight="normal" stroke="#111" stroke-width="0.5" textLength="80.8" lengthAdjust="spacingAndGlyphs" transform="translate(10.4,317.6) rotate(-90)">Intensity (a.u.)</text>
<text x="184.6" y="216.8" font-size="12.5" fill="#111" text-anchor="start" font-weight="normal" stroke="#111" stroke-width="0.38" textLength="29.1" lengthAdjust="spacingAndGlyphs">Ni 2p</text>
<text x="30.7" y="228.9" font-size="8.2" fill="#222" text-anchor="start" font-weight="normal" stroke="#222" stroke-width="0.2" textLength="13.3" lengthAdjust="spacingAndGlyphs">Sat.</text>
<text x="136.6" y="247.2" font-size="8.2" fill="#222" text-anchor="start" font-weight="normal" stroke="#222" stroke-width="0.2" textLength="14" lengthAdjust="spacingAndGlyphs">Sat.</text>
<text x="60.1" y="218.2" font-size="8.2" fill="#222" stroke="#222" stroke-width="0.15"><tspan textLength="17.1" lengthAdjust="spacingAndGlyphs">Ni 2p</tspan><tspan font-size="6.2" dy="1.4" dx="0.4" stroke-width="0.05" fill="#333" textLength="7.2" lengthAdjust="spacingAndGlyphs">1/2</tspan></text>
<text x="187.1" y="228.5" font-size="8.2" fill="#222" stroke="#222" stroke-width="0.15"><tspan textLength="16.7" lengthAdjust="spacingAndGlyphs">Ni 2p</tspan><tspan font-size="6.2" dy="1.4" dx="0.4" stroke-width="0.05" fill="#333" textLength="8" lengthAdjust="spacingAndGlyphs">3/2</tspan></text>
<g fill="#d0d0d0"><circle cx="266.81" cy="333.73" r="0.75"/><circle cx="269.05" cy="317.44" r="0.75"/><circle cx="272.35" cy="336.22" r="0.75"/><circle cx="272.8" cy="338.11" r="0.75"/><circle cx="275.77" cy="321.29" r="0.75"/><circle cx="276.91" cy="320.73" r="0.75"/><circle cx="280.68" cy="316.75" r="0.75"/><circle cx="280.96" cy="311.84" r="0.75"/><circle cx="282.95" cy="316.32" r="0.75"/><circle cx="286.53" cy="307.07" r="0.75"/><circle cx="287.08" cy="329.42" r="0.75"/><circle cx="290.69" cy="328.5" r="0.75"/><circle cx="291.19" cy="308.65" r="0.75"/><circle cx="294.6" cy="309.69" r="0.75"/><circle cx="296.11" cy="301.96" r="0.75"/><circle cx="296.74" cy="299.67" r="0.75"/><circle cx="300.2" cy="308.44" r="0.75"/><circle cx="301.84" cy="295.84" r="0.75"/><circle cx="303.78" cy="291.32" r="0.75"/><circle cx="305.77" cy="298.19" r="0.75"/><circle cx="307.1" cy="287.32" r="0.75"/><circle cx="310.57" cy="290.2" r="0.75"/><circle cx="311.06" cy="289.21" r="0.75"/><circle cx="314.38" cy="262.82" r="0.75"/><circle cx="315.23" cy="259.84" r="0.75"/><circle cx="316.81" cy="277.87" r="0.75"/><circle cx="319.52" cy="271.55" r="0.75"/><circle cx="320.93" cy="244.54" r="0.75"/><circle cx="324.44" cy="263.87" r="0.75"/><circle cx="326.68" cy="258.85" r="0.75"/><circle cx="327.75" cy="259.68" r="0.75"/><circle cx="328.89" cy="252.54" r="0.75"/><circle cx="331.58" cy="241.29" r="0.75"/><circle cx="333.9" cy="246.66" r="0.75"/><circle cx="335.71" cy="249.09" r="0.75"/><circle cx="337.34" cy="250.29" r="0.75"/><circle cx="339.9" cy="269.88" r="0.75"/><circle cx="342.57" cy="269.24" r="0.75"/><circle cx="344.37" cy="256.24" r="0.75"/><circle cx="346.65" cy="259.23" r="0.75"/><circle cx="346.95" cy="269.42" r="0.75"/><circle cx="350.16" cy="268.83" r="0.75"/><circle cx="351.99" cy="271.14" r="0.75"/><circle cx="354.63" cy="279.83" r="0.75"/><circle cx="355.66" cy="285.83" r="0.75"/><circle cx="358.45" cy="302.16" r="0.75"/><circle cx="359.76" cy="290.18" r="0.75"/><circle cx="361.94" cy="282.68" r="0.75"/><circle cx="363.55" cy="306.95" r="0.75"/><circle cx="366.25" cy="286.88" r="0.75"/><circle cx="368.41" cy="297.43" r="0.75"/><circle cx="370.66" cy="297.85" r="0.75"/><circle cx="371.13" cy="303.26" r="0.75"/><circle cx="374.47" cy="299.7" r="0.75"/><circle cx="376.43" cy="306.69" r="0.75"/><circle cx="377.42" cy="293.76" r="0.75"/><circle cx="379.71" cy="294.56" r="0.75"/><circle cx="381.45" cy="299.17" r="0.75"/><circle cx="384.45" cy="294.39" r="0.75"/><circle cx="384.99" cy="280.92" r="0.75"/><circle cx="387.44" cy="288.42" r="0.75"/><circle cx="388.98" cy="269.75" r="0.75"/><circle cx="391.34" cy="271.56" r="0.75"/><circle cx="392.76" cy="274.92" r="0.75"/><circle cx="396.54" cy="271.13" r="0.75"/><circle cx="398.17" cy="275.95" r="0.75"/><circle cx="400.38" cy="275.27" r="0.75"/><circle cx="401.58" cy="266.23" r="0.75"/><circle cx="402.94" cy="269.75" r="0.75"/><circle cx="405.46" cy="257.04" r="0.75"/><circle cx="408.48" cy="251.08" r="0.75"/><circle cx="409.08" cy="266.14" r="0.75"/><circle cx="411.9" cy="246.23" r="0.75"/><circle cx="412.76" cy="255.17" r="0.75"/><circle cx="414.71" cy="270.8" r="0.75"/><circle cx="417.07" cy="257.93" r="0.75"/><circle cx="419.48" cy="267.86" r="0.75"/><circle cx="421.56" cy="274.84" r="0.75"/><circle cx="424.02" cy="273.47" r="0.75"/><circle cx="424.89" cy="292.89" r="0.75"/><circle cx="428.08" cy="272.13" r="0.75"/><circle cx="429.58" cy="295.18" r="0.75"/><circle cx="432.68" cy="280.11" r="0.75"/><circle cx="432.72" cy="295.7" r="0.75"/><circle cx="435.54" cy="311.04" r="0.75"/><circle cx="438.35" cy="298.7" r="0.75"/><circle cx="439.54" cy="308.83" r="0.75"/><circle cx="442.47" cy="300.9" r="0.75"/><circle cx="443.48" cy="300.11" r="0.75"/><circle cx="445.98" cy="300.41" r="0.75"/><circle cx="448.57" cy="316.04" r="0.75"/><circle cx="449.85" cy="305.18" r="0.75"/><circle cx="451.16" cy="317.06" r="0.75"/><circle cx="454.41" cy="319.94" r="0.75"/><circle cx="455.27" cy="333.05" r="0.75"/><circle cx="458.02" cy="320.88" r="0.75"/><circle cx="459.1" cy="314.84" r="0.75"/><circle cx="462.5" cy="310.48" r="0.75"/><circle cx="463.76" cy="324.31" r="0.75"/><circle cx="465.41" cy="328.59" r="0.75"/></g>
<path d="M267.7,327.39 L268.2,327.38 L268.7,327.38 L269.2,327.37 L269.7,327.36 L270.2,327.35 L270.7,327.34 L271.2,327.34 L271.7,327.33 L272.2,327.32 L272.7,327.31 L273.2,327.3 L273.7,327.3 L274.2,327.29 L274.7,327.28 L275.2,327.27 L275.7,327.26 L276.2,327.25 L276.7,327.25 L277.2,327.24 L277.7,327.23 L278.2,327.22 L278.7,327.21 L279.2,327.2 L279.7,327.19 L280.2,327.18 L280.7,327.17 L281.2,327.16 L281.7,327.15 L282.2,327.14 L282.7,327.13 L283.2,327.12 L283.7,327.12 L284.2,327.11 L284.7,327.1 L285.2,327.09 L285.7,327.08 L286.2,327.07 L286.7,327.06 L287.2,327.05 L287.7,327.04 L288.2,327.02 L288.7,327.01 L289.2,327 L289.7,326.99 L290.2,326.98 L290.7,326.97 L291.2,326.96 L291.7,326.95 L292.2,326.94 L292.7,326.93 L293.2,326.92 L293.7,326.91 L294.2,326.9 L294.7,326.89 L295.2,326.87 L295.7,326.86 L296.2,326.85 L296.7,326.84 L297.2,326.83 L297.7,326.82 L298.2,326.81 L298.7,326.8 L299.2,326.78 L299.7,326.77 L300.2,326.76 L300.7,326.75 L301.2,326.74 L301.7,326.73 L302.2,326.71 L302.7,326.7 L303.2,326.69 L303.7,326.68 L304.2,326.67 L304.7,326.66 L305.2,326.64 L305.7,326.63 L306.2,326.62 L306.7,326.61 L307.2,326.6 L307.7,326.58 L308.2,326.57 L308.7,326.56 L309.2,326.54 L309.7,326.53 L310.2,326.52 L310.7,326.5 L311.2,326.49 L311.7,326.48 L312.2,326.46 L312.7,326.45 L313.2,326.43 L313.7,326.42 L314.2,326.4 L314.7,326.39 L315.2,326.38 L315.7,326.36 L316.2,326.34 L316.7,326.33 L317.2,326.31 L317.7,326.3 L318.2,326.28 L318.7,326.27 L319.2,326.25 L319.7,326.24 L320.2,326.22 L320.7,326.2 L321.2,326.19 L321.7,326.17 L322.2,326.16 L322.7,326.14 L323.2,326.12 L323.7,326.11 L324.2,326.09 L324.7,326.07 L325.2,326.06 L325.7,326.04 L326.2,326.03 L326.7,326.01 L327.2,325.99 L327.7,325.98 L328.2,325.96 L328.7,325.94 L329.2,325.93 L329.7,325.91 L330.2,325.9 L330.7,325.88 L331.2,325.86 L331.7,325.85 L332.2,325.83 L332.7,325.82 L333.2,325.8 L333.7,325.79 L334.2,325.77 L334.7,325.75 L335.2,325.74 L335.7,325.72 L336.2,325.71 L336.7,325.69 L337.2,325.68 L337.7,325.66 L338.2,325.65 L338.7,325.64 L339.2,325.62 L339.7,325.61 L340.2,325.59 L340.7,325.58 L341.2,325.57 L341.7,325.55 L342.2,325.54 L342.7,325.53 L343.2,325.51 L343.7,325.5 L344.2,325.49 L344.7,325.48 L345.2,325.46 L345.7,325.45 L346.2,325.44 L346.7,325.43 L347.2,325.41 L347.7,325.4 L348.2,325.39 L348.7,325.38 L349.2,325.36 L349.7,325.35 L350.2,325.34 L350.7,325.33 L351.2,325.32 L351.7,325.3 L352.2,325.29 L352.7,325.28 L353.2,325.27 L353.7,325.26 L354.2,325.25 L354.7,325.23 L355.2,325.22 L355.7,325.21 L356.2,325.2 L356.7,325.19 L357.2,325.18 L357.7,325.16 L358.2,325.15 L358.7,325.14 L359.2,325.13 L359.7,325.12 L360.2,325.11 L360.7,325.09 L361.2,325.08 L361.7,325.07 L362.2,325.06 L362.7,325.05 L363.2,325.04 L363.7,325.02 L364.2,325.01 L364.7,325 L365.2,324.99 L365.7,324.98 L366.2,324.97 L366.7,324.95 L367.2,324.94 L367.7,324.93 L368.2,324.92 L368.7,324.9 L369.2,324.89 L369.7,324.88 L370.2,324.87 L370.7,324.85 L371.2,324.84 L371.7,324.83 L372.2,324.82 L372.7,324.8 L373.2,324.79 L373.7,324.78 L374.2,324.76 L374.7,324.75 L375.2,324.74 L375.7,324.72 L376.2,324.71 L376.7,324.69 L377.2,324.68 L377.7,324.67 L378.2,324.65 L378.7,324.64 L379.2,324.62 L379.7,324.61 L380.2,324.59 L380.7,324.58 L381.2,324.56 L381.7,324.55 L382.2,324.53 L382.7,324.52 L383.2,324.5 L383.7,324.48 L384.2,324.47 L384.7,324.45 L385.2,324.43 L385.7,324.41 L386.2,324.4 L386.7,324.38 L387.2,324.36 L387.7,324.34 L388.2,324.33 L388.7,324.31 L389.2,324.29 L389.7,324.27 L390.2,324.25 L390.7,324.23 L391.2,324.22 L391.7,324.2 L392.2,324.18 L392.7,324.16 L393.2,324.14 L393.7,324.12 L394.2,324.11 L394.7,324.09 L395.2,324.07 L395.7,324.05 L396.2,324.03 L396.7,324.02 L397.2,324 L397.7,323.98 L398.2,323.96 L398.7,323.94 L399.2,323.93 L399.7,323.91 L400.2,323.89 L400.7,323.88 L401.2,323.86 L401.7,323.84 L402.2,323.83 L402.7,323.81 L403.2,323.79 L403.7,323.78 L404.2,323.76 L404.7,323.74 L405.2,323.73 L405.7,323.71 L406.2,323.7 L406.7,323.68 L407.2,323.66 L407.7,323.65 L408.2,323.63 L408.7,323.62 L409.2,323.6 L409.7,323.58 L410.2,323.57 L410.7,323.55 L411.2,323.54 L411.7,323.52 L412.2,323.51 L412.7,323.49 L413.2,323.47 L413.7,323.46 L414.2,323.44 L414.7,323.43 L415.2,323.41 L415.7,323.4 L416.2,323.38 L416.7,323.37 L417.2,323.35 L417.7,323.33 L418.2,323.32 L418.7,323.3 L419.2,323.29 L419.7,323.27 L420.2,323.26 L420.7,323.24 L421.2,323.23 L421.7,323.21 L422.2,323.19 L422.7,323.18 L423.2,323.16 L423.7,323.15 L424.2,323.13 L424.7,323.12 L425.2,323.1 L425.7,323.08 L426.2,323.07 L426.7,323.05 L427.2,323.04 L427.7,323.02 L428.2,323 L428.7,322.99 L429.2,322.97 L429.7,322.95 L430.2,322.94 L430.7,322.92 L431.2,322.9 L431.7,322.89 L432.2,322.87 L432.7,322.85 L433.2,322.84 L433.7,322.82 L434.2,322.8 L434.7,322.79 L435.2,322.77 L435.7,322.75 L436.2,322.74 L436.7,322.72 L437.2,322.7 L437.7,322.68 L438.2,322.66 L438.7,322.65 L439.2,322.63 L439.7,322.61 L440.2,322.59 L440.7,322.57 L441.2,322.56 L441.7,322.54 L442.2,322.52 L442.7,322.5 L443.2,322.48 L443.7,322.46 L444.2,322.44 L444.7,322.42 L445.2,322.41 L445.7,322.39 L446.2,322.37 L446.7,322.35 L447.2,322.33 L447.7,322.31 L448.2,322.29 L448.7,322.27 L449.2,322.25 L449.7,322.23 L450.2,322.21 L450.7,322.19 L451.2,322.17 L451.7,322.15 L452.2,322.13 L452.7,322.11 L453.2,322.09 L453.7,322.07 L454.2,322.05 L454.7,322.03 L455.2,322.01 L455.7,321.98 L456.2,321.96 L456.7,321.94 L457.2,321.92 L457.7,321.9 L458.2,321.88 L458.7,321.86 L459.2,321.84 L459.7,321.82 L460.2,321.8 L460.7,321.77 L461.2,321.75 L461.7,321.73 L462.2,321.71 L462.7,321.69 L463.2,321.67 L463.7,321.64 L464.2,321.62 L464.7,321.6 L465.2,321.58 L465.7,321.56 L466.2,321.54" fill="none" stroke="#a064dc" stroke-width="1.2" stroke-linejoin="round" stroke-linecap="round" />
<path d="M267.7,326.65 L268.2,326.59 L268.7,326.53 L269.2,326.47 L269.7,326.4 L270.2,326.32 L270.7,326.25 L271.2,326.17 L271.7,326.08 L272.2,325.99 L272.7,325.9 L273.2,325.8 L273.7,325.7 L274.2,325.59 L274.7,325.48 L275.2,325.36 L275.7,325.24 L276.2,325.11 L276.7,324.97 L277.2,324.83 L277.7,324.69 L278.2,324.53 L278.7,324.37 L279.2,324.21 L279.7,324.04 L280.2,323.86 L280.7,323.67 L281.2,323.48 L281.7,323.28 L282.2,323.07 L282.7,322.85 L283.2,322.63 L283.7,322.4 L284.2,322.16 L284.7,321.92 L285.2,321.66 L285.7,321.4 L286.2,321.13 L286.7,320.86 L287.2,320.57 L287.7,320.28 L288.2,319.98 L288.7,319.67 L289.2,319.36 L289.7,319.04 L290.2,318.71 L290.7,318.37 L291.2,318.02 L291.7,317.67 L292.2,317.31 L292.7,316.95 L293.2,316.58 L293.7,316.2 L294.2,315.82 L294.7,315.43 L295.2,315.04 L295.7,314.64 L296.2,314.24 L296.7,313.83 L297.2,313.42 L297.7,313.01 L298.2,312.59 L298.7,312.17 L299.2,311.75 L299.7,311.33 L300.2,310.91 L300.7,310.48 L301.2,310.06 L301.7,309.64 L302.2,309.22 L302.7,308.8 L303.2,308.38 L303.7,307.97 L304.2,307.56 L304.7,307.16 L305.2,306.76 L305.7,306.36 L306.2,305.97 L306.7,305.59 L307.2,305.21 L307.7,304.85 L308.2,304.49 L308.7,304.14 L309.2,303.8 L309.7,303.47 L310.2,303.15 L310.7,302.84 L311.2,302.55 L311.7,302.26 L312.2,301.99 L312.7,301.74 L313.2,301.49 L313.7,301.26 L314.2,301.05 L314.7,300.85 L315.2,300.66 L315.7,300.49 L316.2,300.34 L316.7,300.21 L317.2,300.09 L317.7,299.98 L318.2,299.9 L318.7,299.83 L319.2,299.77 L319.7,299.74 L320.2,299.72 L320.7,299.72 L321.2,299.74 L321.7,299.77 L322.2,299.82 L322.7,299.88 L323.2,299.96 L323.7,300.06 L324.2,300.17 L324.7,300.3 L325.2,300.44 L325.7,300.6 L326.2,300.77 L326.7,300.96 L327.2,301.16 L327.7,301.38 L328.2,301.6 L328.7,301.85 L329.2,302.1 L329.7,302.36 L330.2,302.64 L330.7,302.93 L331.2,303.22 L331.7,303.53 L332.2,303.85 L332.7,304.17 L333.2,304.51 L333.7,304.85 L334.2,305.2 L334.7,305.55 L335.2,305.91 L335.7,306.28 L336.2,306.65 L336.7,307.02 L337.2,307.4 L337.7,307.78 L338.2,308.16 L338.7,308.55 L339.2,308.94 L339.7,309.33 L340.2,309.72 L340.7,310.1 L341.2,310.49 L341.7,310.88 L342.2,311.26 L342.7,311.65 L343.2,312.03 L343.7,312.41 L344.2,312.78 L344.7,313.15 L345.2,313.52 L345.7,313.88 L346.2,314.24 L346.7,314.59 L347.2,314.94 L347.7,315.28 L348.2,315.62 L348.7,315.95 L349.2,316.28 L349.7,316.59 L350.2,316.9 L350.7,317.21 L351.2,317.51 L351.7,317.8 L352.2,318.08 L352.7,318.36 L353.2,318.63 L353.7,318.89 L354.2,319.14 L354.7,319.39 L355.2,319.63 L355.7,319.86 L356.2,320.08 L356.7,320.3 L357.2,320.51 L357.7,320.71 L358.2,320.91 L358.7,321.1 L359.2,321.28 L359.7,321.45 L360.2,321.62 L360.7,321.78 L361.2,321.94 L361.7,322.08 L362.2,322.23 L362.7,322.36 L363.2,322.49 L363.7,322.61 L364.2,322.73 L364.7,322.84 L365.2,322.95 L365.7,323.05 L366.2,323.15 L366.7,323.24 L367.2,323.32 L367.7,323.4 L368.2,323.48 L368.7,323.55 L369.2,323.62 L369.7,323.69 L370.2,323.75 L370.7,323.8 L371.2,323.85 L371.7,323.9 L372.2,323.95 L372.7,323.99 L373.2,324.03 L373.7,324.07 L374.2,324.1 L374.7,324.13 L375.2,324.16 L375.7,324.18 L376.2,324.21 L376.7,324.23 L377.2,324.24 L377.7,324.26 L378.2,324.28 L378.7,324.29 L379.2,324.3 L379.7,324.31 L380.2,324.31 L380.7,324.32 L381.2,324.32 L381.7,324.32 L382.2,324.33 L382.7,324.33 L383.2,324.32 L383.7,324.32 L384.2,324.32 L384.7,324.31 L385.2,324.3 L385.7,324.3" fill="none" stroke="#22a24a" stroke-width="1.1" stroke-linejoin="round" stroke-linecap="round" />
<path d="M267.7,327.2 L268.2,327.18 L268.7,327.15 L269.2,327.13 L269.7,327.1 L270.2,327.07 L270.7,327.04 L271.2,327 L271.7,326.97 L272.2,326.93 L272.7,326.89 L273.2,326.85 L273.7,326.81 L274.2,326.76 L274.7,326.71 L275.2,326.66 L275.7,326.61 L276.2,326.55 L276.7,326.49 L277.2,326.42 L277.7,326.36 L278.2,326.28 L278.7,326.21 L279.2,326.13 L279.7,326.04 L280.2,325.95 L280.7,325.86 L281.2,325.76 L281.7,325.65 L282.2,325.54 L282.7,325.42 L283.2,325.3 L283.7,325.17 L284.2,325.04 L284.7,324.89 L285.2,324.74 L285.7,324.58 L286.2,324.42 L286.7,324.25 L287.2,324.06 L287.7,323.87 L288.2,323.67 L288.7,323.47 L289.2,323.25 L289.7,323.02 L290.2,322.78 L290.7,322.53 L291.2,322.28 L291.7,322.01 L292.2,321.72 L292.7,321.43 L293.2,321.13 L293.7,320.81 L294.2,320.48 L294.7,320.14 L295.2,319.78 L295.7,319.42 L296.2,319.04 L296.7,318.64 L297.2,318.23 L297.7,317.81 L298.2,317.38 L298.7,316.93 L299.2,316.46 L299.7,315.99 L300.2,315.49 L300.7,314.99 L301.2,314.47 L301.7,313.93 L302.2,313.38 L302.7,312.81 L303.2,312.24 L303.7,311.64 L304.2,311.04 L304.7,310.42 L305.2,309.78 L305.7,309.13 L306.2,308.47 L306.7,307.8 L307.2,307.11 L307.7,306.41 L308.2,305.7 L308.7,304.98 L309.2,304.25 L309.7,303.51 L310.2,302.76 L310.7,302 L311.2,301.23 L311.7,300.45 L312.2,299.66 L312.7,298.87 L313.2,298.07 L313.7,297.27 L314.2,296.47 L314.7,295.66 L315.2,294.85 L315.7,294.04 L316.2,293.22 L316.7,292.41 L317.2,291.6 L317.7,290.79 L318.2,289.99 L318.7,289.19 L319.2,288.4 L319.7,287.61 L320.2,286.83 L320.7,286.06 L321.2,285.3 L321.7,284.55 L322.2,283.82 L322.7,283.09 L323.2,282.39 L323.7,281.69 L324.2,281.02 L324.7,280.36 L325.2,279.72 L325.7,279.1 L326.2,278.5 L326.7,277.93 L327.2,277.37 L327.7,276.84 L328.2,276.33 L328.7,275.85 L329.2,275.4 L329.7,274.97 L330.2,274.57 L330.7,274.2 L331.2,273.85 L331.7,273.54 L332.2,273.25 L332.7,273 L333.2,272.78 L333.7,272.59 L334.2,272.43 L334.7,272.3 L335.2,272.2 L335.7,272.14 L336.2,272.11 L336.7,272.11 L337.2,272.15 L337.7,272.22 L338.2,272.32 L338.7,272.46 L339.2,272.62 L339.7,272.83 L340.2,273.06 L340.7,273.33 L341.2,273.62 L341.7,273.95 L342.2,274.31 L342.7,274.7 L343.2,275.11 L343.7,275.56 L344.2,276.03 L344.7,276.52 L345.2,277.04 L345.7,277.59 L346.2,278.16 L346.7,278.75 L347.2,279.37 L347.7,280 L348.2,280.65 L348.7,281.32 L349.2,282.01 L349.7,282.71 L350.2,283.43 L350.7,284.16 L351.2,284.9 L351.7,285.66 L352.2,286.42 L352.7,287.2 L353.2,287.98 L353.7,288.76 L354.2,289.56 L354.7,290.35 L355.2,291.15 L355.7,291.95 L356.2,292.76 L356.7,293.56 L357.2,294.36 L357.7,295.16 L358.2,295.96 L358.7,296.75 L359.2,297.54 L359.7,298.32 L360.2,299.09 L360.7,299.86 L361.2,300.62 L361.7,301.37 L362.2,302.12 L362.7,302.85 L363.2,303.57 L363.7,304.28 L364.2,304.98 L364.7,305.66 L365.2,306.34 L365.7,307 L366.2,307.64 L366.7,308.28 L367.2,308.9 L367.7,309.5 L368.2,310.09 L368.7,310.67 L369.2,311.23 L369.7,311.77 L370.2,312.31 L370.7,312.82 L371.2,313.32 L371.7,313.81 L372.2,314.28 L372.7,314.73 L373.2,315.18 L373.7,315.6 L374.2,316.01 L374.7,316.41 L375.2,316.79 L375.7,317.16 L376.2,317.51 L376.7,317.85 L377.2,318.18 L377.7,318.5 L378.2,318.8 L378.7,319.08 L379.2,319.36 L379.7,319.62 L380.2,319.87 L380.7,320.11 L381.2,320.34 L381.7,320.56 L382.2,320.77 L382.7,320.96 L383.2,321.15 L383.7,321.33 L384.2,321.49 L384.7,321.65 L385.2,321.8 L385.7,321.94 L386.2,322.07 L386.7,322.2 L387.2,322.31 L387.7,322.42 L388.2,322.53 L388.7,322.62 L389.2,322.71 L389.7,322.8 L390.2,322.87 L390.7,322.95 L391.2,323.01 L391.7,323.08 L392.2,323.13 L392.7,323.19 L393.2,323.23 L393.7,323.28 L394.2,323.32 L394.7,323.36 L395.2,323.39 L395.7,323.42 L396.2,323.45 L396.7,323.47 L397.2,323.5 L397.7,323.51 L398.2,323.53 L398.7,323.55 L399.2,323.56 L399.7,323.57 L400.2,323.58 L400.7,323.59 L401.2,323.59 L401.7,323.6 L402.2,323.6 L402.7,323.6 L403.2,323.6 L403.7,323.6 L404.2,323.6 L404.7,323.6 L405.2,323.59 L405.7,323.59 L406.2,323.58" fill="none" stroke="#2e2e2e" stroke-width="1.2" stroke-linejoin="round" stroke-linecap="round" />
<path d="M348.2,324.91 L348.7,324.85 L349.2,324.8 L349.7,324.74 L350.2,324.68 L350.7,324.62 L351.2,324.56 L351.7,324.49 L352.2,324.41 L352.7,324.33 L353.2,324.25 L353.7,324.17 L354.2,324.08 L354.7,323.98 L355.2,323.89 L355.7,323.78 L356.2,323.67 L356.7,323.56 L357.2,323.44 L357.7,323.31 L358.2,323.18 L358.7,323.04 L359.2,322.9 L359.7,322.75 L360.2,322.59 L360.7,322.42 L361.2,322.25 L361.7,322.07 L362.2,321.89 L362.7,321.69 L363.2,321.49 L363.7,321.28 L364.2,321.06 L364.7,320.84 L365.2,320.6 L365.7,320.36 L366.2,320.11 L366.7,319.85 L367.2,319.58 L367.7,319.31 L368.2,319.02 L368.7,318.73 L369.2,318.43 L369.7,318.12 L370.2,317.8 L370.7,317.48 L371.2,317.14 L371.7,316.8 L372.2,316.46 L372.7,316.1 L373.2,315.74 L373.7,315.37 L374.2,314.99 L374.7,314.61 L375.2,314.22 L375.7,313.83 L376.2,313.43 L376.7,313.03 L377.2,312.62 L377.7,312.21 L378.2,311.8 L378.7,311.39 L379.2,310.97 L379.7,310.55 L380.2,310.13 L380.7,309.71 L381.2,309.29 L381.7,308.87 L382.2,308.46 L382.7,308.04 L383.2,307.63 L383.7,307.22 L384.2,306.82 L384.7,306.43 L385.2,306.04 L385.7,305.65 L386.2,305.28 L386.7,304.91 L387.2,304.55 L387.7,304.2 L388.2,303.86 L388.7,303.53 L389.2,303.22 L389.7,302.91 L390.2,302.62 L390.7,302.35 L391.2,302.08 L391.7,301.84 L392.2,301.61 L392.7,301.39 L393.2,301.19 L393.7,301.01 L394.2,300.84 L394.7,300.69 L395.2,300.56 L395.7,300.45 L396.2,300.35 L396.7,300.28 L397.2,300.22 L397.7,300.18 L398.2,300.16 L398.7,300.16 L399.2,300.18 L399.7,300.22 L400.2,300.27 L400.7,300.35 L401.2,300.44 L401.7,300.55 L402.2,300.68 L402.7,300.82 L403.2,300.98 L403.7,301.16 L404.2,301.36 L404.7,301.57 L405.2,301.79 L405.7,302.03 L406.2,302.28 L406.7,302.55 L407.2,302.83 L407.7,303.12 L408.2,303.42 L408.7,303.74 L409.2,304.06 L409.7,304.39 L410.2,304.73 L410.7,305.08 L411.2,305.44 L411.7,305.8 L412.2,306.17 L412.7,306.54 L413.2,306.92 L413.7,307.3 L414.2,307.69 L414.7,308.07 L415.2,308.46 L415.7,308.85 L416.2,309.24 L416.7,309.63 L417.2,310.02 L417.7,310.4 L418.2,310.79 L418.7,311.17 L419.2,311.54 L419.7,311.92 L420.2,312.29 L420.7,312.65 L421.2,313.01 L421.7,313.37 L422.2,313.71 L422.7,314.06 L423.2,314.39 L423.7,314.72 L424.2,315.04 L424.7,315.35 L425.2,315.66 L425.7,315.96 L426.2,316.25 L426.7,316.53 L427.2,316.8 L427.7,317.07 L428.2,317.33 L428.7,317.58 L429.2,317.82 L429.7,318.05 L430.2,318.27 L430.7,318.49 L431.2,318.7 L431.7,318.89 L432.2,319.09 L432.7,319.27 L433.2,319.44 L433.7,319.61 L434.2,319.77 L434.7,319.92 L435.2,320.07 L435.7,320.2 L436.2,320.33 L436.7,320.46 L437.2,320.57 L437.7,320.68 L438.2,320.79 L438.7,320.89 L439.2,320.98 L439.7,321.06 L440.2,321.14 L440.7,321.22 L441.2,321.29 L441.7,321.35 L442.2,321.41 L442.7,321.47 L443.2,321.52 L443.7,321.57 L444.2,321.61 L444.7,321.65 L445.2,321.69 L445.7,321.72 L446.2,321.75 L446.7,321.78 L447.2,321.8 L447.7,321.82" fill="none" stroke="#1f5fd8" stroke-width="1.2" stroke-linejoin="round" stroke-linecap="round" />
<path d="M359.7,324.66 L360.2,324.61 L360.7,324.55 L361.2,324.49 L361.7,324.42 L362.2,324.36 L362.7,324.28 L363.2,324.21 L363.7,324.12 L364.2,324.04 L364.7,323.94 L365.2,323.85 L365.7,323.74 L366.2,323.63 L366.7,323.51 L367.2,323.39 L367.7,323.25 L368.2,323.11 L368.7,322.96 L369.2,322.8 L369.7,322.64 L370.2,322.46 L370.7,322.27 L371.2,322.08 L371.7,321.87 L372.2,321.65 L372.7,321.42 L373.2,321.18 L373.7,320.92 L374.2,320.65 L374.7,320.37 L375.2,320.07 L375.7,319.76 L376.2,319.44 L376.7,319.1 L377.2,318.75 L377.7,318.38 L378.2,317.99 L378.7,317.59 L379.2,317.17 L379.7,316.73 L380.2,316.28 L380.7,315.81 L381.2,315.32 L381.7,314.81 L382.2,314.29 L382.7,313.74 L383.2,313.18 L383.7,312.61 L384.2,312.01 L384.7,311.4 L385.2,310.77 L385.7,310.12 L386.2,309.46 L386.7,308.77 L387.2,308.08 L387.7,307.36 L388.2,306.63 L388.7,305.89 L389.2,305.13 L389.7,304.36 L390.2,303.58 L390.7,302.79 L391.2,301.98 L391.7,301.17 L392.2,300.34 L392.7,299.51 L393.2,298.67 L393.7,297.83 L394.2,296.98 L394.7,296.13 L395.2,295.27 L395.7,294.42 L396.2,293.56 L396.7,292.71 L397.2,291.87 L397.7,291.03 L398.2,290.19 L398.7,289.36 L399.2,288.55 L399.7,287.74 L400.2,286.95 L400.7,286.17 L401.2,285.41 L401.7,284.67 L402.2,283.95 L402.7,283.24 L403.2,282.56 L403.7,281.9 L404.2,281.27 L404.7,280.67 L405.2,280.09 L405.7,279.54 L406.2,279.02 L406.7,278.54 L407.2,278.08 L407.7,277.66 L408.2,277.28 L408.7,276.93 L409.2,276.62 L409.7,276.34 L410.2,276.1 L410.7,275.9 L411.2,275.74 L411.7,275.62 L412.2,275.53 L412.7,275.49 L413.2,275.49 L413.7,275.52 L414.2,275.6 L414.7,275.71 L415.2,275.87 L415.7,276.06 L416.2,276.29 L416.7,276.55 L417.2,276.86 L417.7,277.2 L418.2,277.57 L418.7,277.98 L419.2,278.42 L419.7,278.9 L420.2,279.4 L420.7,279.94 L421.2,280.5 L421.7,281.09 L422.2,281.7 L422.7,282.34 L423.2,283.01 L423.7,283.69 L424.2,284.39 L424.7,285.11 L425.2,285.85 L425.7,286.6 L426.2,287.37 L426.7,288.15 L427.2,288.94 L427.7,289.74 L428.2,290.54 L428.7,291.35 L429.2,292.17 L429.7,292.99 L430.2,293.81 L430.7,294.63 L431.2,295.44 L431.7,296.26 L432.2,297.07 L432.7,297.88 L433.2,298.68 L433.7,299.47 L434.2,300.25 L434.7,301.03 L435.2,301.79 L435.7,302.54 L436.2,303.28 L436.7,304.01 L437.2,304.72 L437.7,305.42 L438.2,306.1 L438.7,306.77 L439.2,307.42 L439.7,308.06 L440.2,308.68 L440.7,309.28 L441.2,309.87 L441.7,310.43 L442.2,310.98 L442.7,311.51 L443.2,312.03 L443.7,312.52 L444.2,313 L444.7,313.46 L445.2,313.91 L445.7,314.33 L446.2,314.74 L446.7,315.14 L447.2,315.51 L447.7,315.87 L448.2,316.21 L448.7,316.54 L449.2,316.85 L449.7,317.15 L450.2,317.43 L450.7,317.7 L451.2,317.95 L451.7,318.19 L452.2,318.42 L452.7,318.63 L453.2,318.84 L453.7,319.03 L454.2,319.21 L454.7,319.37 L455.2,319.53 L455.7,319.68 L456.2,319.82 L456.7,319.94 L457.2,320.06 L457.7,320.17 L458.2,320.28 L458.7,320.37 L459.2,320.46 L459.7,320.54 L460.2,320.62 L460.7,320.68 L461.2,320.74 L461.7,320.8 L462.2,320.85 L462.7,320.9 L463.2,320.94 L463.7,320.98 L464.2,321.01 L464.7,321.04 L465.2,321.06 L465.7,321.08" fill="none" stroke="#e5161e" stroke-width="1.2" stroke-linejoin="round" stroke-linecap="round" />
<path d="M267.7,326.46 L268.2,326.39 L268.7,326.31 L269.2,326.22 L269.7,326.14 L270.2,326.04 L270.7,325.94 L271.2,325.84 L271.7,325.72 L272.2,325.61 L272.7,325.48 L273.2,325.35 L273.7,325.21 L274.2,325.07 L274.7,324.91 L275.2,324.75 L275.7,324.58 L276.2,324.4 L276.7,324.22 L277.2,324.02 L277.7,323.81 L278.2,323.6 L278.7,323.37 L279.2,323.13 L279.7,322.89 L280.2,322.63 L280.7,322.35 L281.2,322.07 L281.7,321.77 L282.2,321.46 L282.7,321.14 L283.2,320.81 L283.7,320.46 L284.2,320.09 L284.7,319.71 L285.2,319.32 L285.7,318.91 L286.2,318.49 L286.7,318.05 L287.2,317.59 L287.7,317.12 L288.2,316.63 L288.7,316.13 L289.2,315.6 L289.7,315.06 L290.2,314.51 L290.7,313.93 L291.2,313.34 L291.7,312.73 L292.2,312.1 L292.7,311.45 L293.2,310.79 L293.7,310.1 L294.2,309.4 L294.7,308.68 L295.2,307.95 L295.7,307.19 L296.2,306.42 L296.7,305.63 L297.2,304.82 L297.7,304 L298.2,303.16 L298.7,302.3 L299.2,301.43 L299.7,300.54 L300.2,299.64 L300.7,298.72 L301.2,297.79 L301.7,296.84 L302.2,295.88 L302.7,294.91 L303.2,293.93 L303.7,292.93 L304.2,291.93 L304.7,290.92 L305.2,289.89 L305.7,288.86 L306.2,287.82 L306.7,286.78 L307.2,285.73 L307.7,284.68 L308.2,283.62 L308.7,282.57 L309.2,281.51 L309.7,280.45 L310.2,279.39 L310.7,278.33 L311.2,277.28 L311.7,276.23 L312.2,275.19 L312.7,274.16 L313.2,273.13 L313.7,272.12 L314.2,271.11 L314.7,270.12 L315.2,269.14 L315.7,268.17 L316.2,267.22 L316.7,266.29 L317.2,265.37 L317.7,264.48 L318.2,263.6 L318.7,262.75 L319.2,261.92 L319.7,261.11 L320.2,260.33 L320.7,259.58 L321.2,258.85 L321.7,258.15 L322.2,257.48 L322.7,256.83 L323.2,256.22 L323.7,255.64 L324.2,255.09 L324.7,254.58 L325.2,254.1 L325.7,253.65 L326.2,253.24 L326.7,252.87 L327.2,252.53 L327.7,252.23 L328.2,251.97 L328.7,251.74 L329.2,251.55 L329.7,251.4 L330.2,251.29 L330.7,251.22 L331.2,251.19 L331.7,251.2 L332.2,251.24 L332.7,251.33 L333.2,251.45 L333.7,251.61 L334.2,251.81 L334.7,252.05 L335.2,252.32 L335.7,252.64 L336.2,252.98 L336.7,253.37 L337.2,253.79 L337.7,254.25 L338.2,254.74 L338.7,255.27 L339.2,255.83 L339.7,256.42 L340.2,257.05 L340.7,257.7 L341.2,258.39 L341.7,259.1 L342.2,259.84 L342.7,260.61 L343.2,261.4 L343.7,262.21 L344.2,263.05 L344.7,263.9 L345.2,264.78 L345.7,265.67 L346.2,266.58 L346.7,267.51 L347.2,268.44 L347.7,269.39 L348.2,270.35 L348.7,271.32 L349.2,272.3 L349.7,273.28 L350.2,274.26 L350.7,275.25 L351.2,276.24 L351.7,277.23 L352.2,278.22 L352.7,279.2 L353.2,280.18 L353.7,281.15 L354.2,282.12 L354.7,283.07 L355.2,284.02 L355.7,284.95 L356.2,285.87 L356.7,286.77 L357.2,287.66 L357.7,288.53 L358.2,289.39 L358.7,290.22 L359.2,291.03 L359.7,291.82 L360.2,292.59 L360.7,293.33 L361.2,294.05 L361.7,294.74 L362.2,295.4 L362.7,296.04 L363.2,296.64 L363.7,297.22 L364.2,297.77 L364.7,298.28 L365.2,298.77 L365.7,299.22 L366.2,299.63 L366.7,300.02 L367.2,300.37 L367.7,300.68 L368.2,300.96 L368.7,301.2 L369.2,301.41 L369.7,301.58 L370.2,301.71 L370.7,301.81 L371.2,301.87 L371.7,301.9 L372.2,301.89 L372.7,301.84 L373.2,301.75 L373.7,301.63 L374.2,301.47 L374.7,301.27 L375.2,301.04 L375.7,300.77 L376.2,300.47 L376.7,300.13 L377.2,299.75 L377.7,299.35 L378.2,298.9 L378.7,298.43 L379.2,297.92 L379.7,297.38 L380.2,296.81 L380.7,296.21 L381.2,295.58 L381.7,294.93 L382.2,294.24 L382.7,293.53 L383.2,292.79 L383.7,292.03 L384.2,291.24 L384.7,290.44 L385.2,289.61 L385.7,288.76 L386.2,287.9 L386.7,287.02 L387.2,286.12 L387.7,285.21 L388.2,284.29 L388.7,283.36 L389.2,282.42 L389.7,281.47 L390.2,280.52 L390.7,279.56 L391.2,278.6 L391.7,277.64 L392.2,276.68 L392.7,275.73 L393.2,274.78 L393.7,273.83 L394.2,272.9 L394.7,271.97 L395.2,271.06 L395.7,270.16 L396.2,269.28 L396.7,268.42 L397.2,267.57 L397.7,266.75 L398.2,265.95 L398.7,265.17 L399.2,264.42 L399.7,263.7 L400.2,263.01 L400.7,262.35 L401.2,261.72 L401.7,261.12 L402.2,260.57 L402.7,260.04 L403.2,259.56 L403.7,259.11 L404.2,258.7 L404.7,258.34 L405.2,258.01 L405.7,257.73 L406.2,257.49 L406.7,257.3 L407.2,257.15 L407.7,257.05 L408.2,256.99 L408.7,256.97 L409.2,257.01 L409.7,257.08 L410.2,257.21 L410.7,257.38 L411.2,257.59 L411.7,257.85 L412.2,258.16 L412.7,258.51 L413.2,258.9 L413.7,259.34 L414.2,259.82 L414.7,260.34 L415.2,260.89 L415.7,261.49 L416.2,262.13 L416.7,262.8 L417.2,263.51 L417.7,264.25 L418.2,265.03 L418.7,265.83 L419.2,266.67 L419.7,267.53 L420.2,268.43 L420.7,269.34 L421.2,270.28 L421.7,271.24 L422.2,272.22 L422.7,273.22 L423.2,274.23 L423.7,275.26 L424.2,276.3 L424.7,277.35 L425.2,278.41 L425.7,279.48 L426.2,280.55 L426.7,281.63 L427.2,282.71 L427.7,283.79 L428.2,284.87 L428.7,285.94 L429.2,287.01 L429.7,288.08 L430.2,289.14 L430.7,290.19 L431.2,291.23 L431.7,292.26 L432.2,293.28 L432.7,294.29 L433.2,295.28 L433.7,296.26 L434.2,297.22 L434.7,298.16 L435.2,299.09 L435.7,299.99 L436.2,300.88 L436.7,301.75 L437.2,302.59 L437.7,303.42 L438.2,304.23 L438.7,305.01 L439.2,305.77 L439.7,306.51 L440.2,307.23 L440.7,307.93 L441.2,308.6 L441.7,309.25 L442.2,309.88 L442.7,310.48 L443.2,311.07 L443.7,311.63 L444.2,312.17 L444.7,312.69 L445.2,313.19 L445.7,313.67 L446.2,314.13 L446.7,314.56 L447.2,314.98 L447.7,315.38 L448.2,315.76 L448.7,316.12 L449.2,316.47 L449.7,316.79 L450.2,317.1 L450.7,317.4 L451.2,317.67 L451.7,317.94 L452.2,318.18 L452.7,318.42 L453.2,318.64 L453.7,318.85 L454.2,319.04 L454.7,319.22 L455.2,319.39 L455.7,319.55 L456.2,319.7 L456.7,319.84 L457.2,319.97 L457.7,320.09 L458.2,320.2 L458.7,320.3 L459.2,320.39 L459.7,320.48 L460.2,320.56 L460.7,320.63 L461.2,320.7 L461.7,320.76 L462.2,320.82 L462.7,320.86 L463.2,320.91 L463.7,320.95 L464.2,320.98 L464.7,321.01 L465.2,321.04 L465.7,321.06 L466.2,321.08" fill="none" stroke="#d9a21b" stroke-width="1.5" stroke-linejoin="round" stroke-linecap="round" />
<rect x="267" y="201.6" width="200" height="149.8" fill="none" stroke="#141414" stroke-width="1.3"/>
<path d="M311.5,351.4 V354.2 M374,351.4 V354.2 M436.5,351.4 V354.2 M280.25,351.4 V353.1 M342.75,351.4 V353.1 M405.25,351.4 V353.1" stroke="#141414" stroke-width="1.2" fill="none"/>
<text x="311.5" y="363.5" font-size="9" fill="#1a1a1a" text-anchor="middle" font-weight="normal" stroke="#1a1a1a" stroke-width="0.25" textLength="13.8" lengthAdjust="spacingAndGlyphs">170</text>
<text x="374" y="363.5" font-size="9" fill="#1a1a1a" text-anchor="middle" font-weight="normal" stroke="#1a1a1a" stroke-width="0.25" textLength="13.8" lengthAdjust="spacingAndGlyphs">165</text>
<text x="436.5" y="363.5" font-size="9" fill="#1a1a1a" text-anchor="middle" font-weight="normal" stroke="#1a1a1a" stroke-width="0.25" textLength="13.8" lengthAdjust="spacingAndGlyphs">160</text>
<text x="270.5" y="218.9" font-size="16.5" fill="#111" text-anchor="start" font-weight="normal" stroke="#111" stroke-width="0.5" textLength="20.1" lengthAdjust="spacingAndGlyphs">(d)</text>
<text x="311" y="379.4" font-size="12.7" fill="#111" text-anchor="start" font-weight="normal" stroke="#111" stroke-width="0.5" textLength="112.2" lengthAdjust="spacingAndGlyphs">Binding Energy (eV)</text>
<text font-size="12.6" fill="#111" text-anchor="start" font-weight="normal" stroke="#111" stroke-width="0.5" textLength="80.8" lengthAdjust="spacingAndGlyphs" transform="translate(259.6,317.6) rotate(-90)">Intensity (a.u.)</text>
<text x="437" y="217.5" font-size="12.5" fill="#111" text-anchor="start" font-weight="normal" stroke="#111" stroke-width="0.38" textLength="23.5" lengthAdjust="spacingAndGlyphs">S 2p</text>
<text x="315.2" y="220.4" font-size="8.2" fill="#222" text-anchor="start" font-weight="normal" stroke="#222" stroke-width="0.2" textLength="30.3" lengthAdjust="spacingAndGlyphs">Sulphate</text>
<text x="372.8" y="244.6" font-size="8.2" fill="#222" stroke="#222" stroke-width="0.15"><tspan textLength="15.6" lengthAdjust="spacingAndGlyphs">S 2p</tspan><tspan font-size="6.2" dy="1.4" dx="0.4" stroke-width="0.05" fill="#333" textLength="6.6" lengthAdjust="spacingAndGlyphs">1/2</tspan></text>
<text x="423.8" y="244.6" font-size="8.2" fill="#222" stroke="#222" stroke-width="0.15"><tspan textLength="15.6" lengthAdjust="spacingAndGlyphs">S 2p</tspan><tspan font-size="6.2" dy="1.4" dx="0.4" stroke-width="0.05" fill="#333" textLength="7" lengthAdjust="spacingAndGlyphs">3/2</tspan></text>
<line x1="384" y1="248.5" x2="388.6" y2="298" stroke="#9a9a9a" stroke-width="0.8"/>
<polygon points="387.2,297 390.2,296.8 388.9,301" fill="#111"/>
<line x1="434.3" y1="251.7" x2="420.3" y2="275.5" stroke="#9a9a9a" stroke-width="0.8"/>
<polygon points="418.6,274.5 421.8,276.3 419.1,278.6" fill="#111"/>
</svg>
</body></html>
